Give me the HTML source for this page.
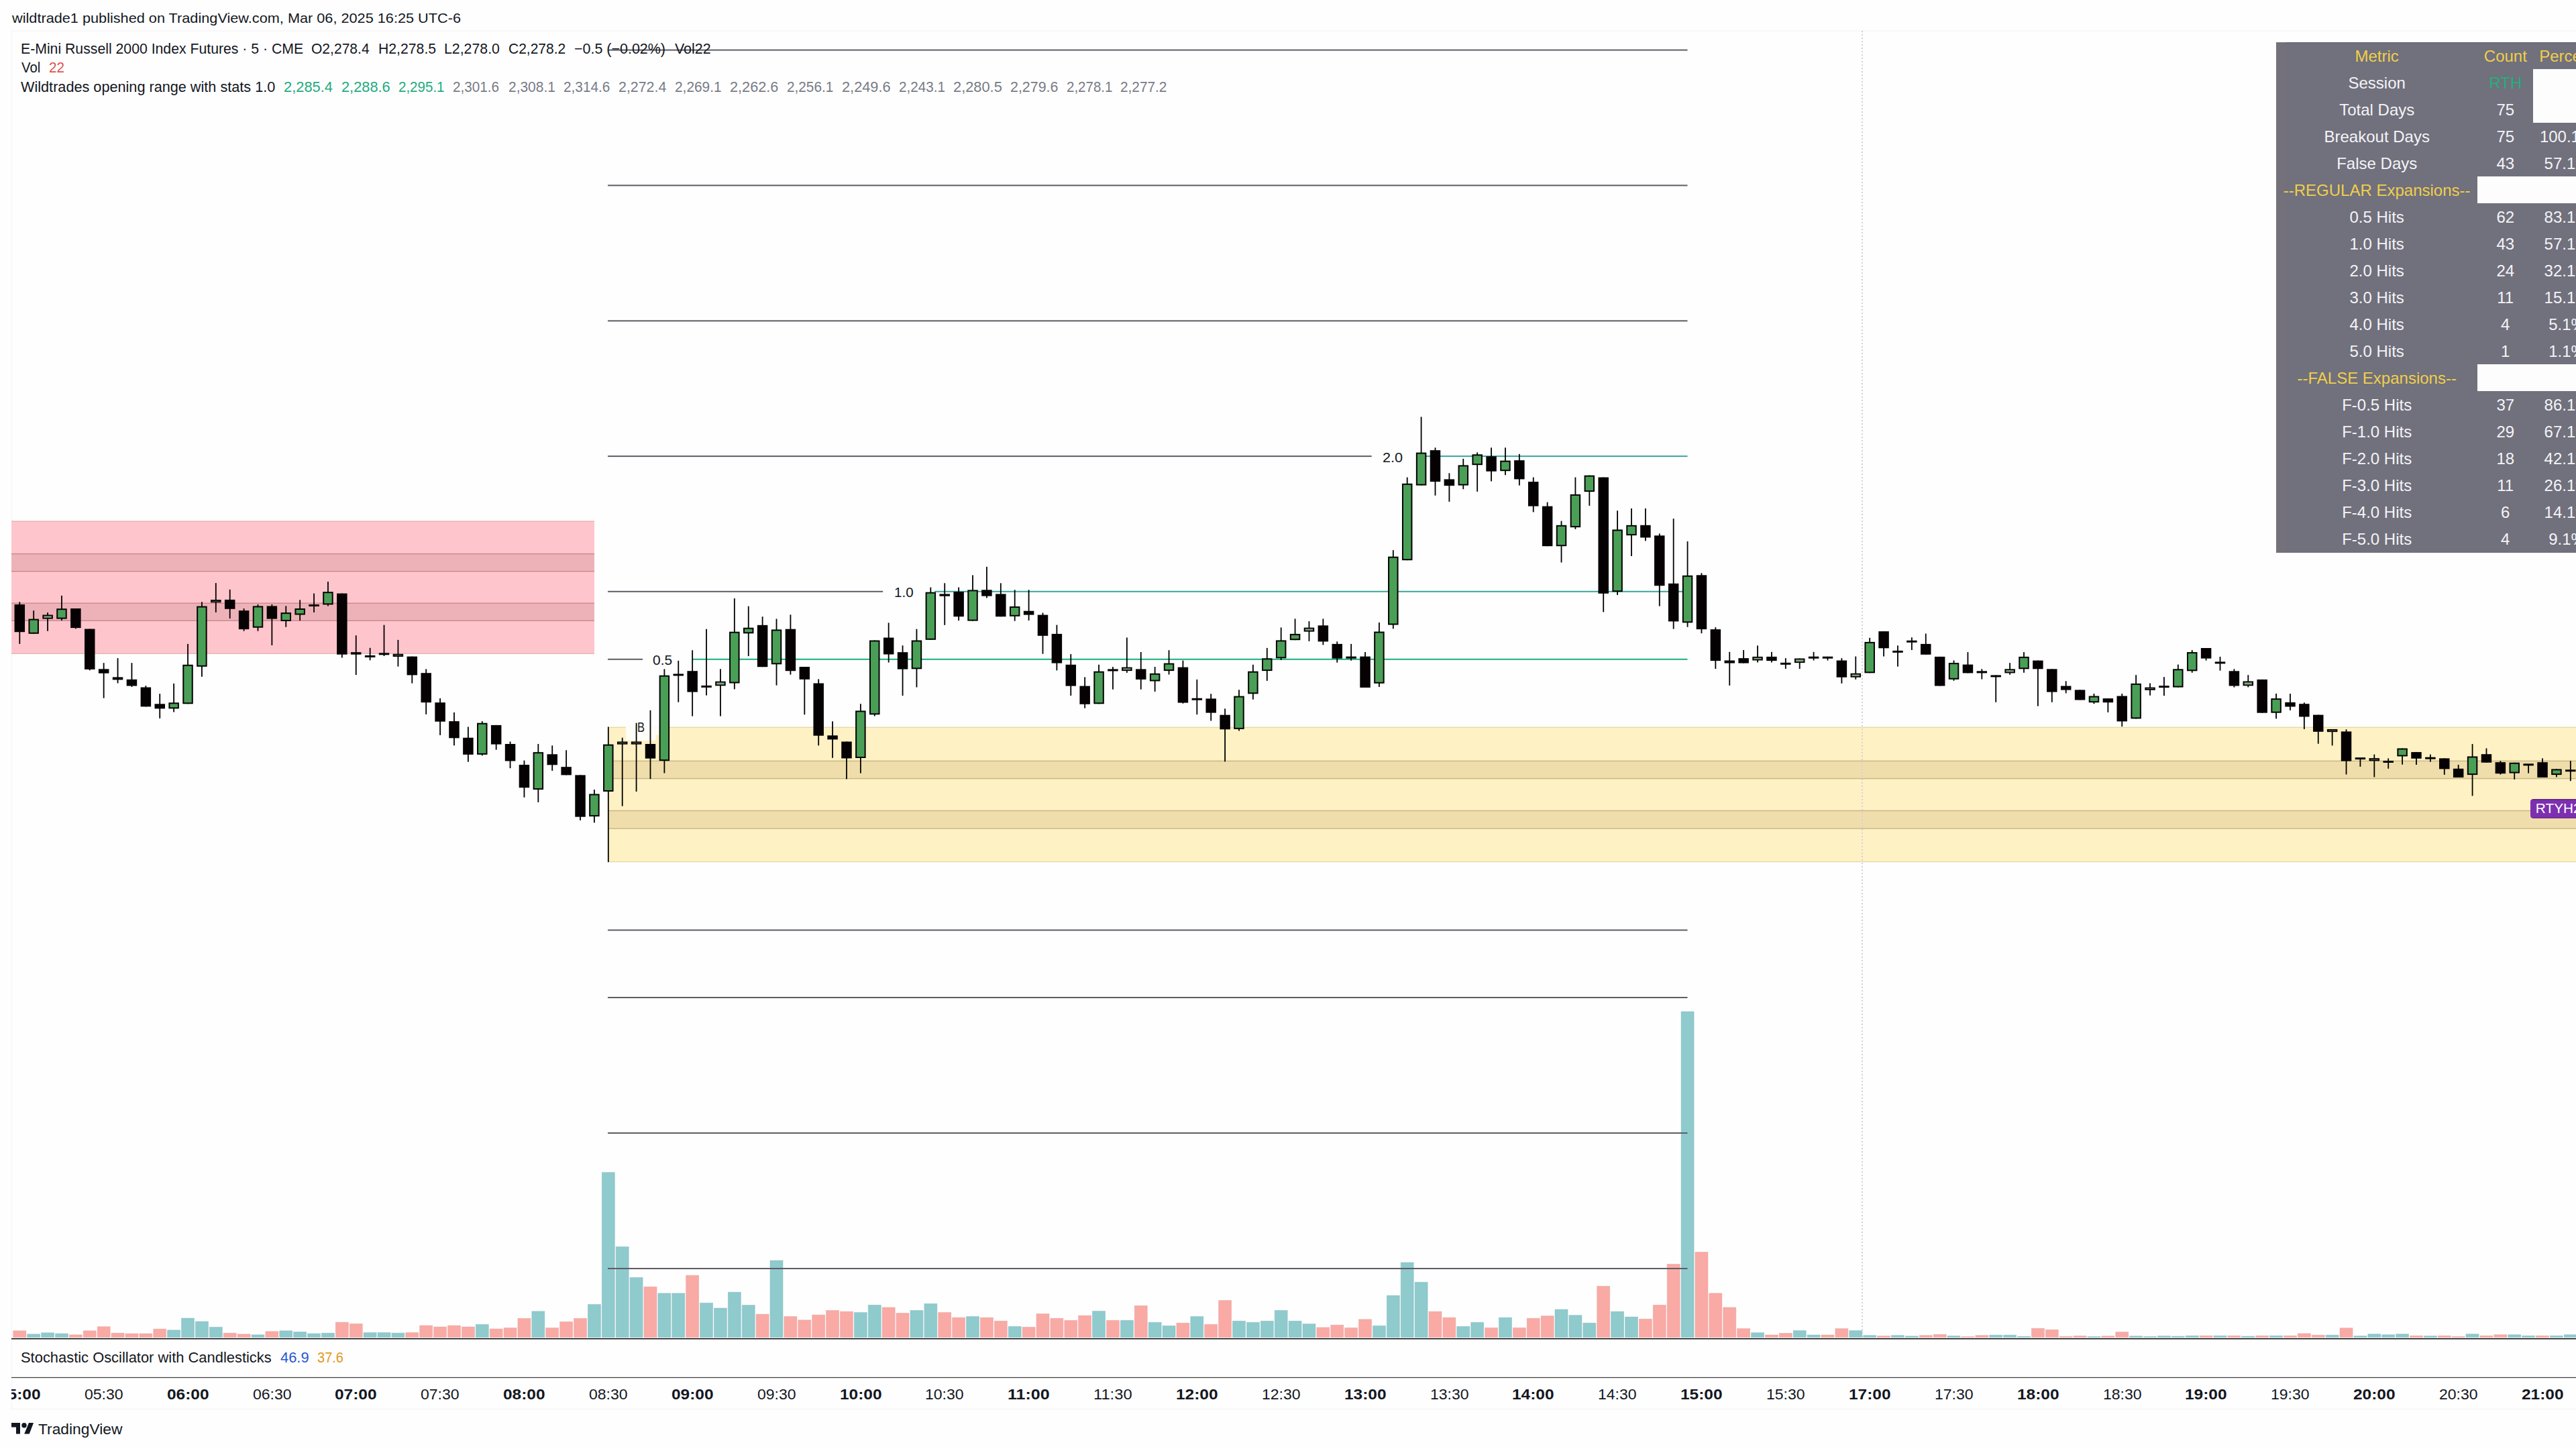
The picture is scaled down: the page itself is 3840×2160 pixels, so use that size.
<!DOCTYPE html>
<html><head><meta charset="utf-8"><style>
html,body{margin:0;padding:0;width:3840px;height:2160px;overflow:hidden;background:#fefefe}
.t{position:absolute;white-space:pre;line-height:1;font-family:"Liberation Sans", sans-serif;transform-origin:0 0}
svg{position:absolute;left:0;top:0}
</style></head><body>
<svg width="3840" height="2160" viewBox="0 0 3840 2160" shape-rendering="auto">
<rect x="17.00" y="45.50" width="3823.00" height="1.00" fill="#f1f0f4"/>
<rect x="17.00" y="45.00" width="1.00" height="2055.00" fill="#f3f2f5"/>
<rect x="17.00" y="2100.00" width="3823.00" height="1.00" fill="#f1f0f4"/>
<rect x="17.00" y="776.50" width="869.00" height="198.30" fill="#fec6cc"/>
<rect x="17.00" y="825.60" width="869.00" height="26.10" fill="#edb2b7"/>
<rect x="17.00" y="824.90" width="869.00" height="1.40" fill="#c98890"/>
<rect x="17.00" y="851.00" width="869.00" height="1.40" fill="#c98890"/>
<rect x="17.00" y="899.20" width="869.00" height="26.00" fill="#edb2b7"/>
<rect x="17.00" y="898.50" width="869.00" height="1.40" fill="#c98890"/>
<rect x="17.00" y="924.50" width="869.00" height="1.40" fill="#c98890"/>
<rect x="17.00" y="776.50" width="869.00" height="1.20" fill="#c98890" opacity="0.45"/>
<rect x="17.00" y="973.60" width="869.00" height="1.20" fill="#c98890" opacity="0.45"/>
<rect x="906.00" y="1083.70" width="2934.00" height="201.50" fill="#fef1c4"/>
<rect x="906.00" y="1134.40" width="2934.00" height="26.20" fill="#efdeab"/>
<rect x="906.00" y="1133.70" width="2934.00" height="1.40" fill="#c9b683"/>
<rect x="906.00" y="1159.90" width="2934.00" height="1.40" fill="#c9b683"/>
<rect x="906.00" y="1208.50" width="2934.00" height="26.60" fill="#efdeab"/>
<rect x="906.00" y="1207.80" width="2934.00" height="1.40" fill="#c9b683"/>
<rect x="906.00" y="1234.40" width="2934.00" height="1.40" fill="#c9b683"/>
<rect x="906.00" y="1083.70" width="2934.00" height="1.20" fill="#c9b683" opacity="0.45"/>
<rect x="906.00" y="1284.00" width="2934.00" height="1.20" fill="#c9b683" opacity="0.45"/>
<rect x="933.00" y="1083.20" width="44.50" height="20.80" fill="#fefdf8"/>
<rect x="977.50" y="1083.20" width="5.00" height="12.40" fill="#fefdf8"/>
<line x1="2776" y1="46" x2="2776" y2="1995" stroke="#d6d0d8" stroke-width="2" stroke-dasharray="2,3"/>
<rect x="19.80" y="1983.80" width="19.00" height="9.70" fill="#f9aaa5"/>
<rect x="19.80" y="1983.80" width="19.00" height="9.70" fill="none" stroke="#e9a09b" stroke-width="0.8" stroke-opacity="0.6"/>
<rect x="40.69" y="1988.80" width="19.00" height="4.70" fill="#8fcacd"/>
<rect x="40.69" y="1988.80" width="19.00" height="4.70" fill="none" stroke="#86bcc1" stroke-width="0.8" stroke-opacity="0.6"/>
<rect x="61.59" y="1986.80" width="19.00" height="6.70" fill="#8fcacd"/>
<rect x="61.59" y="1986.80" width="19.00" height="6.70" fill="none" stroke="#86bcc1" stroke-width="0.8" stroke-opacity="0.6"/>
<rect x="82.48" y="1988.00" width="19.00" height="5.50" fill="#8fcacd"/>
<rect x="82.48" y="1988.00" width="19.00" height="5.50" fill="none" stroke="#86bcc1" stroke-width="0.8" stroke-opacity="0.6"/>
<rect x="103.37" y="1989.80" width="19.00" height="3.70" fill="#f9aaa5"/>
<rect x="103.37" y="1989.80" width="19.00" height="3.70" fill="none" stroke="#e9a09b" stroke-width="0.8" stroke-opacity="0.6"/>
<rect x="124.27" y="1983.80" width="19.00" height="9.70" fill="#f9aaa5"/>
<rect x="124.27" y="1983.80" width="19.00" height="9.70" fill="none" stroke="#e9a09b" stroke-width="0.8" stroke-opacity="0.6"/>
<rect x="145.16" y="1977.70" width="19.00" height="15.80" fill="#f9aaa5"/>
<rect x="145.16" y="1977.70" width="19.00" height="15.80" fill="none" stroke="#e9a09b" stroke-width="0.8" stroke-opacity="0.6"/>
<rect x="166.05" y="1987.20" width="19.00" height="6.30" fill="#f9aaa5"/>
<rect x="166.05" y="1987.20" width="19.00" height="6.30" fill="none" stroke="#e9a09b" stroke-width="0.8" stroke-opacity="0.6"/>
<rect x="186.94" y="1988.00" width="19.00" height="5.50" fill="#f9aaa5"/>
<rect x="186.94" y="1988.00" width="19.00" height="5.50" fill="none" stroke="#e9a09b" stroke-width="0.8" stroke-opacity="0.6"/>
<rect x="207.84" y="1988.00" width="19.00" height="5.50" fill="#f9aaa5"/>
<rect x="207.84" y="1988.00" width="19.00" height="5.50" fill="none" stroke="#e9a09b" stroke-width="0.8" stroke-opacity="0.6"/>
<rect x="228.73" y="1981.10" width="19.00" height="12.40" fill="#f9aaa5"/>
<rect x="228.73" y="1981.10" width="19.00" height="12.40" fill="none" stroke="#e9a09b" stroke-width="0.8" stroke-opacity="0.6"/>
<rect x="249.62" y="1982.80" width="19.00" height="10.70" fill="#8fcacd"/>
<rect x="249.62" y="1982.80" width="19.00" height="10.70" fill="none" stroke="#86bcc1" stroke-width="0.8" stroke-opacity="0.6"/>
<rect x="270.52" y="1965.00" width="19.00" height="28.50" fill="#8fcacd"/>
<rect x="270.52" y="1965.00" width="19.00" height="28.50" fill="none" stroke="#86bcc1" stroke-width="0.8" stroke-opacity="0.6"/>
<rect x="291.41" y="1970.00" width="19.00" height="23.50" fill="#8fcacd"/>
<rect x="291.41" y="1970.00" width="19.00" height="23.50" fill="none" stroke="#86bcc1" stroke-width="0.8" stroke-opacity="0.6"/>
<rect x="312.30" y="1978.30" width="19.00" height="15.20" fill="#8fcacd"/>
<rect x="312.30" y="1978.30" width="19.00" height="15.20" fill="none" stroke="#86bcc1" stroke-width="0.8" stroke-opacity="0.6"/>
<rect x="333.19" y="1987.20" width="19.00" height="6.30" fill="#f9aaa5"/>
<rect x="333.19" y="1987.20" width="19.00" height="6.30" fill="none" stroke="#e9a09b" stroke-width="0.8" stroke-opacity="0.6"/>
<rect x="354.09" y="1988.80" width="19.00" height="4.70" fill="#f9aaa5"/>
<rect x="354.09" y="1988.80" width="19.00" height="4.70" fill="none" stroke="#e9a09b" stroke-width="0.8" stroke-opacity="0.6"/>
<rect x="374.98" y="1989.80" width="19.00" height="3.70" fill="#8fcacd"/>
<rect x="374.98" y="1989.80" width="19.00" height="3.70" fill="none" stroke="#86bcc1" stroke-width="0.8" stroke-opacity="0.6"/>
<rect x="395.87" y="1984.80" width="19.00" height="8.70" fill="#f9aaa5"/>
<rect x="395.87" y="1984.80" width="19.00" height="8.70" fill="none" stroke="#e9a09b" stroke-width="0.8" stroke-opacity="0.6"/>
<rect x="416.77" y="1983.80" width="19.00" height="9.70" fill="#8fcacd"/>
<rect x="416.77" y="1983.80" width="19.00" height="9.70" fill="none" stroke="#86bcc1" stroke-width="0.8" stroke-opacity="0.6"/>
<rect x="437.66" y="1985.40" width="19.00" height="8.10" fill="#8fcacd"/>
<rect x="437.66" y="1985.40" width="19.00" height="8.10" fill="none" stroke="#86bcc1" stroke-width="0.8" stroke-opacity="0.6"/>
<rect x="458.55" y="1988.00" width="19.00" height="5.50" fill="#8fcacd"/>
<rect x="458.55" y="1988.00" width="19.00" height="5.50" fill="none" stroke="#86bcc1" stroke-width="0.8" stroke-opacity="0.6"/>
<rect x="479.45" y="1987.20" width="19.00" height="6.30" fill="#8fcacd"/>
<rect x="479.45" y="1987.20" width="19.00" height="6.30" fill="none" stroke="#86bcc1" stroke-width="0.8" stroke-opacity="0.6"/>
<rect x="500.34" y="1971.10" width="19.00" height="22.40" fill="#f9aaa5"/>
<rect x="500.34" y="1971.10" width="19.00" height="22.40" fill="none" stroke="#e9a09b" stroke-width="0.8" stroke-opacity="0.6"/>
<rect x="521.23" y="1973.30" width="19.00" height="20.20" fill="#f9aaa5"/>
<rect x="521.23" y="1973.30" width="19.00" height="20.20" fill="none" stroke="#e9a09b" stroke-width="0.8" stroke-opacity="0.6"/>
<rect x="542.12" y="1986.50" width="19.00" height="7.00" fill="#8fcacd"/>
<rect x="542.12" y="1986.50" width="19.00" height="7.00" fill="none" stroke="#86bcc1" stroke-width="0.8" stroke-opacity="0.6"/>
<rect x="563.02" y="1986.50" width="19.00" height="7.00" fill="#8fcacd"/>
<rect x="563.02" y="1986.50" width="19.00" height="7.00" fill="none" stroke="#86bcc1" stroke-width="0.8" stroke-opacity="0.6"/>
<rect x="583.91" y="1987.10" width="19.00" height="6.40" fill="#8fcacd"/>
<rect x="583.91" y="1987.10" width="19.00" height="6.40" fill="none" stroke="#86bcc1" stroke-width="0.8" stroke-opacity="0.6"/>
<rect x="604.80" y="1986.50" width="19.00" height="7.00" fill="#f9aaa5"/>
<rect x="604.80" y="1986.50" width="19.00" height="7.00" fill="none" stroke="#e9a09b" stroke-width="0.8" stroke-opacity="0.6"/>
<rect x="625.70" y="1976.00" width="19.00" height="17.50" fill="#f9aaa5"/>
<rect x="625.70" y="1976.00" width="19.00" height="17.50" fill="none" stroke="#e9a09b" stroke-width="0.8" stroke-opacity="0.6"/>
<rect x="646.59" y="1978.00" width="19.00" height="15.50" fill="#f9aaa5"/>
<rect x="646.59" y="1978.00" width="19.00" height="15.50" fill="none" stroke="#e9a09b" stroke-width="0.8" stroke-opacity="0.6"/>
<rect x="667.48" y="1976.00" width="19.00" height="17.50" fill="#f9aaa5"/>
<rect x="667.48" y="1976.00" width="19.00" height="17.50" fill="none" stroke="#e9a09b" stroke-width="0.8" stroke-opacity="0.6"/>
<rect x="688.38" y="1978.00" width="19.00" height="15.50" fill="#f9aaa5"/>
<rect x="688.38" y="1978.00" width="19.00" height="15.50" fill="none" stroke="#e9a09b" stroke-width="0.8" stroke-opacity="0.6"/>
<rect x="709.27" y="1974.30" width="19.00" height="19.20" fill="#8fcacd"/>
<rect x="709.27" y="1974.30" width="19.00" height="19.20" fill="none" stroke="#86bcc1" stroke-width="0.8" stroke-opacity="0.6"/>
<rect x="730.16" y="1981.00" width="19.00" height="12.50" fill="#f9aaa5"/>
<rect x="730.16" y="1981.00" width="19.00" height="12.50" fill="none" stroke="#e9a09b" stroke-width="0.8" stroke-opacity="0.6"/>
<rect x="751.05" y="1979.40" width="19.00" height="14.10" fill="#f9aaa5"/>
<rect x="751.05" y="1979.40" width="19.00" height="14.10" fill="none" stroke="#e9a09b" stroke-width="0.8" stroke-opacity="0.6"/>
<rect x="771.95" y="1965.30" width="19.00" height="28.20" fill="#f9aaa5"/>
<rect x="771.95" y="1965.30" width="19.00" height="28.20" fill="none" stroke="#e9a09b" stroke-width="0.8" stroke-opacity="0.6"/>
<rect x="792.84" y="1954.80" width="19.00" height="38.70" fill="#8fcacd"/>
<rect x="792.84" y="1954.80" width="19.00" height="38.70" fill="none" stroke="#86bcc1" stroke-width="0.8" stroke-opacity="0.6"/>
<rect x="813.73" y="1979.40" width="19.00" height="14.10" fill="#f9aaa5"/>
<rect x="813.73" y="1979.40" width="19.00" height="14.10" fill="none" stroke="#e9a09b" stroke-width="0.8" stroke-opacity="0.6"/>
<rect x="834.63" y="1970.30" width="19.00" height="23.20" fill="#f9aaa5"/>
<rect x="834.63" y="1970.30" width="19.00" height="23.20" fill="none" stroke="#e9a09b" stroke-width="0.8" stroke-opacity="0.6"/>
<rect x="855.52" y="1965.30" width="19.00" height="28.20" fill="#f9aaa5"/>
<rect x="855.52" y="1965.30" width="19.00" height="28.20" fill="none" stroke="#e9a09b" stroke-width="0.8" stroke-opacity="0.6"/>
<rect x="876.41" y="1944.50" width="19.00" height="49.00" fill="#8fcacd"/>
<rect x="876.41" y="1944.50" width="19.00" height="49.00" fill="none" stroke="#86bcc1" stroke-width="0.8" stroke-opacity="0.6"/>
<rect x="897.31" y="1747.70" width="19.00" height="245.80" fill="#8fcacd"/>
<rect x="897.31" y="1747.70" width="19.00" height="245.80" fill="none" stroke="#86bcc1" stroke-width="0.8" stroke-opacity="0.6"/>
<rect x="918.20" y="1858.50" width="19.00" height="135.00" fill="#8fcacd"/>
<rect x="918.20" y="1858.50" width="19.00" height="135.00" fill="none" stroke="#86bcc1" stroke-width="0.8" stroke-opacity="0.6"/>
<rect x="939.09" y="1904.30" width="19.00" height="89.20" fill="#8fcacd"/>
<rect x="939.09" y="1904.30" width="19.00" height="89.20" fill="none" stroke="#86bcc1" stroke-width="0.8" stroke-opacity="0.6"/>
<rect x="959.99" y="1918.20" width="19.00" height="75.30" fill="#f9aaa5"/>
<rect x="959.99" y="1918.20" width="19.00" height="75.30" fill="none" stroke="#e9a09b" stroke-width="0.8" stroke-opacity="0.6"/>
<rect x="980.88" y="1927.90" width="19.00" height="65.60" fill="#8fcacd"/>
<rect x="980.88" y="1927.90" width="19.00" height="65.60" fill="none" stroke="#86bcc1" stroke-width="0.8" stroke-opacity="0.6"/>
<rect x="1001.77" y="1927.90" width="19.00" height="65.60" fill="#8fcacd"/>
<rect x="1001.77" y="1927.90" width="19.00" height="65.60" fill="none" stroke="#86bcc1" stroke-width="0.8" stroke-opacity="0.6"/>
<rect x="1022.66" y="1901.20" width="19.00" height="92.30" fill="#f9aaa5"/>
<rect x="1022.66" y="1901.20" width="19.00" height="92.30" fill="none" stroke="#e9a09b" stroke-width="0.8" stroke-opacity="0.6"/>
<rect x="1043.56" y="1942.30" width="19.00" height="51.20" fill="#8fcacd"/>
<rect x="1043.56" y="1942.30" width="19.00" height="51.20" fill="none" stroke="#86bcc1" stroke-width="0.8" stroke-opacity="0.6"/>
<rect x="1064.45" y="1950.00" width="19.00" height="43.50" fill="#8fcacd"/>
<rect x="1064.45" y="1950.00" width="19.00" height="43.50" fill="none" stroke="#86bcc1" stroke-width="0.8" stroke-opacity="0.6"/>
<rect x="1085.34" y="1926.20" width="19.00" height="67.30" fill="#8fcacd"/>
<rect x="1085.34" y="1926.20" width="19.00" height="67.30" fill="none" stroke="#86bcc1" stroke-width="0.8" stroke-opacity="0.6"/>
<rect x="1106.24" y="1945.60" width="19.00" height="47.90" fill="#8fcacd"/>
<rect x="1106.24" y="1945.60" width="19.00" height="47.90" fill="none" stroke="#86bcc1" stroke-width="0.8" stroke-opacity="0.6"/>
<rect x="1127.13" y="1959.10" width="19.00" height="34.40" fill="#f9aaa5"/>
<rect x="1127.13" y="1959.10" width="19.00" height="34.40" fill="none" stroke="#e9a09b" stroke-width="0.8" stroke-opacity="0.6"/>
<rect x="1148.02" y="1879.00" width="19.00" height="114.50" fill="#8fcacd"/>
<rect x="1148.02" y="1879.00" width="19.00" height="114.50" fill="none" stroke="#86bcc1" stroke-width="0.8" stroke-opacity="0.6"/>
<rect x="1168.91" y="1962.50" width="19.00" height="31.00" fill="#f9aaa5"/>
<rect x="1168.91" y="1962.50" width="19.00" height="31.00" fill="none" stroke="#e9a09b" stroke-width="0.8" stroke-opacity="0.6"/>
<rect x="1189.81" y="1967.80" width="19.00" height="25.70" fill="#f9aaa5"/>
<rect x="1189.81" y="1967.80" width="19.00" height="25.70" fill="none" stroke="#e9a09b" stroke-width="0.8" stroke-opacity="0.6"/>
<rect x="1210.70" y="1960.10" width="19.00" height="33.40" fill="#f9aaa5"/>
<rect x="1210.70" y="1960.10" width="19.00" height="33.40" fill="none" stroke="#e9a09b" stroke-width="0.8" stroke-opacity="0.6"/>
<rect x="1231.59" y="1953.40" width="19.00" height="40.10" fill="#f9aaa5"/>
<rect x="1231.59" y="1953.40" width="19.00" height="40.10" fill="none" stroke="#e9a09b" stroke-width="0.8" stroke-opacity="0.6"/>
<rect x="1252.49" y="1955.10" width="19.00" height="38.40" fill="#f9aaa5"/>
<rect x="1252.49" y="1955.10" width="19.00" height="38.40" fill="none" stroke="#e9a09b" stroke-width="0.8" stroke-opacity="0.6"/>
<rect x="1273.38" y="1956.50" width="19.00" height="37.00" fill="#8fcacd"/>
<rect x="1273.38" y="1956.50" width="19.00" height="37.00" fill="none" stroke="#86bcc1" stroke-width="0.8" stroke-opacity="0.6"/>
<rect x="1294.27" y="1945.40" width="19.00" height="48.10" fill="#8fcacd"/>
<rect x="1294.27" y="1945.40" width="19.00" height="48.10" fill="none" stroke="#86bcc1" stroke-width="0.8" stroke-opacity="0.6"/>
<rect x="1315.17" y="1949.00" width="19.00" height="44.50" fill="#f9aaa5"/>
<rect x="1315.17" y="1949.00" width="19.00" height="44.50" fill="none" stroke="#e9a09b" stroke-width="0.8" stroke-opacity="0.6"/>
<rect x="1336.06" y="1957.50" width="19.00" height="36.00" fill="#f9aaa5"/>
<rect x="1336.06" y="1957.50" width="19.00" height="36.00" fill="none" stroke="#e9a09b" stroke-width="0.8" stroke-opacity="0.6"/>
<rect x="1356.95" y="1953.40" width="19.00" height="40.10" fill="#8fcacd"/>
<rect x="1356.95" y="1953.40" width="19.00" height="40.10" fill="none" stroke="#86bcc1" stroke-width="0.8" stroke-opacity="0.6"/>
<rect x="1377.85" y="1943.40" width="19.00" height="50.10" fill="#8fcacd"/>
<rect x="1377.85" y="1943.40" width="19.00" height="50.10" fill="none" stroke="#86bcc1" stroke-width="0.8" stroke-opacity="0.6"/>
<rect x="1398.74" y="1956.50" width="19.00" height="37.00" fill="#f9aaa5"/>
<rect x="1398.74" y="1956.50" width="19.00" height="37.00" fill="none" stroke="#e9a09b" stroke-width="0.8" stroke-opacity="0.6"/>
<rect x="1419.63" y="1964.10" width="19.00" height="29.40" fill="#f9aaa5"/>
<rect x="1419.63" y="1964.10" width="19.00" height="29.40" fill="none" stroke="#e9a09b" stroke-width="0.8" stroke-opacity="0.6"/>
<rect x="1440.52" y="1962.50" width="19.00" height="31.00" fill="#8fcacd"/>
<rect x="1440.52" y="1962.50" width="19.00" height="31.00" fill="none" stroke="#86bcc1" stroke-width="0.8" stroke-opacity="0.6"/>
<rect x="1461.42" y="1964.10" width="19.00" height="29.40" fill="#f9aaa5"/>
<rect x="1461.42" y="1964.10" width="19.00" height="29.40" fill="none" stroke="#e9a09b" stroke-width="0.8" stroke-opacity="0.6"/>
<rect x="1482.31" y="1969.20" width="19.00" height="24.30" fill="#f9aaa5"/>
<rect x="1482.31" y="1969.20" width="19.00" height="24.30" fill="none" stroke="#e9a09b" stroke-width="0.8" stroke-opacity="0.6"/>
<rect x="1503.20" y="1977.30" width="19.00" height="16.20" fill="#8fcacd"/>
<rect x="1503.20" y="1977.30" width="19.00" height="16.20" fill="none" stroke="#86bcc1" stroke-width="0.8" stroke-opacity="0.6"/>
<rect x="1524.10" y="1978.30" width="19.00" height="15.20" fill="#f9aaa5"/>
<rect x="1524.10" y="1978.30" width="19.00" height="15.20" fill="none" stroke="#e9a09b" stroke-width="0.8" stroke-opacity="0.6"/>
<rect x="1544.99" y="1958.50" width="19.00" height="35.00" fill="#f9aaa5"/>
<rect x="1544.99" y="1958.50" width="19.00" height="35.00" fill="none" stroke="#e9a09b" stroke-width="0.8" stroke-opacity="0.6"/>
<rect x="1565.88" y="1965.20" width="19.00" height="28.30" fill="#f9aaa5"/>
<rect x="1565.88" y="1965.20" width="19.00" height="28.30" fill="none" stroke="#e9a09b" stroke-width="0.8" stroke-opacity="0.6"/>
<rect x="1586.78" y="1968.20" width="19.00" height="25.30" fill="#f9aaa5"/>
<rect x="1586.78" y="1968.20" width="19.00" height="25.30" fill="none" stroke="#e9a09b" stroke-width="0.8" stroke-opacity="0.6"/>
<rect x="1607.67" y="1961.10" width="19.00" height="32.40" fill="#f9aaa5"/>
<rect x="1607.67" y="1961.10" width="19.00" height="32.40" fill="none" stroke="#e9a09b" stroke-width="0.8" stroke-opacity="0.6"/>
<rect x="1628.56" y="1954.50" width="19.00" height="39.00" fill="#8fcacd"/>
<rect x="1628.56" y="1954.50" width="19.00" height="39.00" fill="none" stroke="#86bcc1" stroke-width="0.8" stroke-opacity="0.6"/>
<rect x="1649.45" y="1968.20" width="19.00" height="25.30" fill="#f9aaa5"/>
<rect x="1649.45" y="1968.20" width="19.00" height="25.30" fill="none" stroke="#e9a09b" stroke-width="0.8" stroke-opacity="0.6"/>
<rect x="1670.35" y="1968.20" width="19.00" height="25.30" fill="#8fcacd"/>
<rect x="1670.35" y="1968.20" width="19.00" height="25.30" fill="none" stroke="#86bcc1" stroke-width="0.8" stroke-opacity="0.6"/>
<rect x="1691.24" y="1946.40" width="19.00" height="47.10" fill="#f9aaa5"/>
<rect x="1691.24" y="1946.40" width="19.00" height="47.10" fill="none" stroke="#e9a09b" stroke-width="0.8" stroke-opacity="0.6"/>
<rect x="1712.13" y="1971.20" width="19.00" height="22.30" fill="#8fcacd"/>
<rect x="1712.13" y="1971.20" width="19.00" height="22.30" fill="none" stroke="#86bcc1" stroke-width="0.8" stroke-opacity="0.6"/>
<rect x="1733.03" y="1976.30" width="19.00" height="17.20" fill="#8fcacd"/>
<rect x="1733.03" y="1976.30" width="19.00" height="17.20" fill="none" stroke="#86bcc1" stroke-width="0.8" stroke-opacity="0.6"/>
<rect x="1753.92" y="1972.20" width="19.00" height="21.30" fill="#f9aaa5"/>
<rect x="1753.92" y="1972.20" width="19.00" height="21.30" fill="none" stroke="#e9a09b" stroke-width="0.8" stroke-opacity="0.6"/>
<rect x="1774.81" y="1962.50" width="19.00" height="31.00" fill="#8fcacd"/>
<rect x="1774.81" y="1962.50" width="19.00" height="31.00" fill="none" stroke="#86bcc1" stroke-width="0.8" stroke-opacity="0.6"/>
<rect x="1795.70" y="1974.20" width="19.00" height="19.30" fill="#f9aaa5"/>
<rect x="1795.70" y="1974.20" width="19.00" height="19.30" fill="none" stroke="#e9a09b" stroke-width="0.8" stroke-opacity="0.6"/>
<rect x="1816.60" y="1938.50" width="19.00" height="55.00" fill="#f9aaa5"/>
<rect x="1816.60" y="1938.50" width="19.00" height="55.00" fill="none" stroke="#e9a09b" stroke-width="0.8" stroke-opacity="0.6"/>
<rect x="1837.49" y="1969.20" width="19.00" height="24.30" fill="#8fcacd"/>
<rect x="1837.49" y="1969.20" width="19.00" height="24.30" fill="none" stroke="#86bcc1" stroke-width="0.8" stroke-opacity="0.6"/>
<rect x="1858.38" y="1971.20" width="19.00" height="22.30" fill="#8fcacd"/>
<rect x="1858.38" y="1971.20" width="19.00" height="22.30" fill="none" stroke="#86bcc1" stroke-width="0.8" stroke-opacity="0.6"/>
<rect x="1879.28" y="1969.20" width="19.00" height="24.30" fill="#8fcacd"/>
<rect x="1879.28" y="1969.20" width="19.00" height="24.30" fill="none" stroke="#86bcc1" stroke-width="0.8" stroke-opacity="0.6"/>
<rect x="1900.17" y="1953.40" width="19.00" height="40.10" fill="#8fcacd"/>
<rect x="1900.17" y="1953.40" width="19.00" height="40.10" fill="none" stroke="#86bcc1" stroke-width="0.8" stroke-opacity="0.6"/>
<rect x="1921.06" y="1969.20" width="19.00" height="24.30" fill="#8fcacd"/>
<rect x="1921.06" y="1969.20" width="19.00" height="24.30" fill="none" stroke="#86bcc1" stroke-width="0.8" stroke-opacity="0.6"/>
<rect x="1941.96" y="1973.60" width="19.00" height="19.90" fill="#8fcacd"/>
<rect x="1941.96" y="1973.60" width="19.00" height="19.90" fill="none" stroke="#86bcc1" stroke-width="0.8" stroke-opacity="0.6"/>
<rect x="1962.85" y="1978.90" width="19.00" height="14.60" fill="#f9aaa5"/>
<rect x="1962.85" y="1978.90" width="19.00" height="14.60" fill="none" stroke="#e9a09b" stroke-width="0.8" stroke-opacity="0.6"/>
<rect x="1983.74" y="1975.20" width="19.00" height="18.30" fill="#f9aaa5"/>
<rect x="1983.74" y="1975.20" width="19.00" height="18.30" fill="none" stroke="#e9a09b" stroke-width="0.8" stroke-opacity="0.6"/>
<rect x="2004.63" y="1979.30" width="19.00" height="14.20" fill="#f9aaa5"/>
<rect x="2004.63" y="1979.30" width="19.00" height="14.20" fill="none" stroke="#e9a09b" stroke-width="0.8" stroke-opacity="0.6"/>
<rect x="2025.53" y="1966.80" width="19.00" height="26.70" fill="#f9aaa5"/>
<rect x="2025.53" y="1966.80" width="19.00" height="26.70" fill="none" stroke="#e9a09b" stroke-width="0.8" stroke-opacity="0.6"/>
<rect x="2046.42" y="1976.30" width="19.00" height="17.20" fill="#8fcacd"/>
<rect x="2046.42" y="1976.30" width="19.00" height="17.20" fill="none" stroke="#86bcc1" stroke-width="0.8" stroke-opacity="0.6"/>
<rect x="2067.31" y="1931.20" width="19.00" height="62.30" fill="#8fcacd"/>
<rect x="2067.31" y="1931.20" width="19.00" height="62.30" fill="none" stroke="#86bcc1" stroke-width="0.8" stroke-opacity="0.6"/>
<rect x="2088.21" y="1882.00" width="19.00" height="111.50" fill="#8fcacd"/>
<rect x="2088.21" y="1882.00" width="19.00" height="111.50" fill="none" stroke="#86bcc1" stroke-width="0.8" stroke-opacity="0.6"/>
<rect x="2109.10" y="1911.30" width="19.00" height="82.20" fill="#8fcacd"/>
<rect x="2109.10" y="1911.30" width="19.00" height="82.20" fill="none" stroke="#86bcc1" stroke-width="0.8" stroke-opacity="0.6"/>
<rect x="2129.99" y="1955.10" width="19.00" height="38.40" fill="#f9aaa5"/>
<rect x="2129.99" y="1955.10" width="19.00" height="38.40" fill="none" stroke="#e9a09b" stroke-width="0.8" stroke-opacity="0.6"/>
<rect x="2150.89" y="1964.10" width="19.00" height="29.40" fill="#f9aaa5"/>
<rect x="2150.89" y="1964.10" width="19.00" height="29.40" fill="none" stroke="#e9a09b" stroke-width="0.8" stroke-opacity="0.6"/>
<rect x="2171.78" y="1977.30" width="19.00" height="16.20" fill="#8fcacd"/>
<rect x="2171.78" y="1977.30" width="19.00" height="16.20" fill="none" stroke="#86bcc1" stroke-width="0.8" stroke-opacity="0.6"/>
<rect x="2192.67" y="1971.20" width="19.00" height="22.30" fill="#8fcacd"/>
<rect x="2192.67" y="1971.20" width="19.00" height="22.30" fill="none" stroke="#86bcc1" stroke-width="0.8" stroke-opacity="0.6"/>
<rect x="2213.57" y="1979.30" width="19.00" height="14.20" fill="#f9aaa5"/>
<rect x="2213.57" y="1979.30" width="19.00" height="14.20" fill="none" stroke="#e9a09b" stroke-width="0.8" stroke-opacity="0.6"/>
<rect x="2234.46" y="1964.10" width="19.00" height="29.40" fill="#8fcacd"/>
<rect x="2234.46" y="1964.10" width="19.00" height="29.40" fill="none" stroke="#86bcc1" stroke-width="0.8" stroke-opacity="0.6"/>
<rect x="2255.35" y="1979.30" width="19.00" height="14.20" fill="#f9aaa5"/>
<rect x="2255.35" y="1979.30" width="19.00" height="14.20" fill="none" stroke="#e9a09b" stroke-width="0.8" stroke-opacity="0.6"/>
<rect x="2276.24" y="1965.20" width="19.00" height="28.30" fill="#f9aaa5"/>
<rect x="2276.24" y="1965.20" width="19.00" height="28.30" fill="none" stroke="#e9a09b" stroke-width="0.8" stroke-opacity="0.6"/>
<rect x="2297.14" y="1961.70" width="19.00" height="31.80" fill="#f9aaa5"/>
<rect x="2297.14" y="1961.70" width="19.00" height="31.80" fill="none" stroke="#e9a09b" stroke-width="0.8" stroke-opacity="0.6"/>
<rect x="2318.03" y="1952.00" width="19.00" height="41.50" fill="#8fcacd"/>
<rect x="2318.03" y="1952.00" width="19.00" height="41.50" fill="none" stroke="#86bcc1" stroke-width="0.8" stroke-opacity="0.6"/>
<rect x="2338.92" y="1960.70" width="19.00" height="32.80" fill="#8fcacd"/>
<rect x="2338.92" y="1960.70" width="19.00" height="32.80" fill="none" stroke="#86bcc1" stroke-width="0.8" stroke-opacity="0.6"/>
<rect x="2359.82" y="1972.20" width="19.00" height="21.30" fill="#8fcacd"/>
<rect x="2359.82" y="1972.20" width="19.00" height="21.30" fill="none" stroke="#86bcc1" stroke-width="0.8" stroke-opacity="0.6"/>
<rect x="2380.71" y="1917.30" width="19.00" height="76.20" fill="#f9aaa5"/>
<rect x="2380.71" y="1917.30" width="19.00" height="76.20" fill="none" stroke="#e9a09b" stroke-width="0.8" stroke-opacity="0.6"/>
<rect x="2401.60" y="1955.10" width="19.00" height="38.40" fill="#8fcacd"/>
<rect x="2401.60" y="1955.10" width="19.00" height="38.40" fill="none" stroke="#86bcc1" stroke-width="0.8" stroke-opacity="0.6"/>
<rect x="2422.50" y="1963.10" width="19.00" height="30.40" fill="#8fcacd"/>
<rect x="2422.50" y="1963.10" width="19.00" height="30.40" fill="none" stroke="#86bcc1" stroke-width="0.8" stroke-opacity="0.6"/>
<rect x="2443.39" y="1966.20" width="19.00" height="27.30" fill="#f9aaa5"/>
<rect x="2443.39" y="1966.20" width="19.00" height="27.30" fill="none" stroke="#e9a09b" stroke-width="0.8" stroke-opacity="0.6"/>
<rect x="2464.28" y="1945.40" width="19.00" height="48.10" fill="#f9aaa5"/>
<rect x="2464.28" y="1945.40" width="19.00" height="48.10" fill="none" stroke="#e9a09b" stroke-width="0.8" stroke-opacity="0.6"/>
<rect x="2485.17" y="1884.50" width="19.00" height="109.00" fill="#f9aaa5"/>
<rect x="2485.17" y="1884.50" width="19.00" height="109.00" fill="none" stroke="#e9a09b" stroke-width="0.8" stroke-opacity="0.6"/>
<rect x="2506.07" y="1508.00" width="19.00" height="485.50" fill="#8fcacd"/>
<rect x="2506.07" y="1508.00" width="19.00" height="485.50" fill="none" stroke="#86bcc1" stroke-width="0.8" stroke-opacity="0.6"/>
<rect x="2526.96" y="1866.50" width="19.00" height="127.00" fill="#f9aaa5"/>
<rect x="2526.96" y="1866.50" width="19.00" height="127.00" fill="none" stroke="#e9a09b" stroke-width="0.8" stroke-opacity="0.6"/>
<rect x="2547.85" y="1927.90" width="19.00" height="65.60" fill="#f9aaa5"/>
<rect x="2547.85" y="1927.90" width="19.00" height="65.60" fill="none" stroke="#e9a09b" stroke-width="0.8" stroke-opacity="0.6"/>
<rect x="2568.75" y="1949.00" width="19.00" height="44.50" fill="#f9aaa5"/>
<rect x="2568.75" y="1949.00" width="19.00" height="44.50" fill="none" stroke="#e9a09b" stroke-width="0.8" stroke-opacity="0.6"/>
<rect x="2589.64" y="1980.60" width="19.00" height="12.90" fill="#f9aaa5"/>
<rect x="2589.64" y="1980.60" width="19.00" height="12.90" fill="none" stroke="#e9a09b" stroke-width="0.8" stroke-opacity="0.6"/>
<rect x="2610.53" y="1986.70" width="19.00" height="6.80" fill="#8fcacd"/>
<rect x="2610.53" y="1986.70" width="19.00" height="6.80" fill="none" stroke="#86bcc1" stroke-width="0.8" stroke-opacity="0.6"/>
<rect x="2631.43" y="1990.00" width="19.00" height="3.50" fill="#f9aaa5"/>
<rect x="2631.43" y="1990.00" width="19.00" height="3.50" fill="none" stroke="#e9a09b" stroke-width="0.8" stroke-opacity="0.6"/>
<rect x="2652.32" y="1987.40" width="19.00" height="6.10" fill="#f9aaa5"/>
<rect x="2652.32" y="1987.40" width="19.00" height="6.10" fill="none" stroke="#e9a09b" stroke-width="0.8" stroke-opacity="0.6"/>
<rect x="2673.21" y="1983.50" width="19.00" height="10.00" fill="#8fcacd"/>
<rect x="2673.21" y="1983.50" width="19.00" height="10.00" fill="none" stroke="#86bcc1" stroke-width="0.8" stroke-opacity="0.6"/>
<rect x="2694.10" y="1990.00" width="19.00" height="3.50" fill="#8fcacd"/>
<rect x="2694.10" y="1990.00" width="19.00" height="3.50" fill="none" stroke="#86bcc1" stroke-width="0.8" stroke-opacity="0.6"/>
<rect x="2715.00" y="1990.00" width="19.00" height="3.50" fill="#f9aaa5"/>
<rect x="2715.00" y="1990.00" width="19.00" height="3.50" fill="none" stroke="#e9a09b" stroke-width="0.8" stroke-opacity="0.6"/>
<rect x="2735.89" y="1980.60" width="19.00" height="12.90" fill="#f9aaa5"/>
<rect x="2735.89" y="1980.60" width="19.00" height="12.90" fill="none" stroke="#e9a09b" stroke-width="0.8" stroke-opacity="0.6"/>
<rect x="2756.78" y="1983.50" width="19.00" height="10.00" fill="#8fcacd"/>
<rect x="2756.78" y="1983.50" width="19.00" height="10.00" fill="none" stroke="#86bcc1" stroke-width="0.8" stroke-opacity="0.6"/>
<rect x="2777.68" y="1990.70" width="19.00" height="2.80" fill="#8fcacd"/>
<rect x="2777.68" y="1990.70" width="19.00" height="2.80" fill="none" stroke="#86bcc1" stroke-width="0.8" stroke-opacity="0.6"/>
<rect x="2798.57" y="1991.40" width="19.00" height="2.10" fill="#f9aaa5"/>
<rect x="2798.57" y="1991.40" width="19.00" height="2.10" fill="none" stroke="#e9a09b" stroke-width="0.8" stroke-opacity="0.6"/>
<rect x="2819.46" y="1990.70" width="19.00" height="2.80" fill="#8fcacd"/>
<rect x="2819.46" y="1990.70" width="19.00" height="2.80" fill="none" stroke="#86bcc1" stroke-width="0.8" stroke-opacity="0.6"/>
<rect x="2840.36" y="1991.80" width="19.00" height="1.70" fill="#8fcacd"/>
<rect x="2840.36" y="1991.80" width="19.00" height="1.70" fill="none" stroke="#86bcc1" stroke-width="0.8" stroke-opacity="0.6"/>
<rect x="2861.25" y="1990.70" width="19.00" height="2.80" fill="#f9aaa5"/>
<rect x="2861.25" y="1990.70" width="19.00" height="2.80" fill="none" stroke="#e9a09b" stroke-width="0.8" stroke-opacity="0.6"/>
<rect x="2882.14" y="1989.20" width="19.00" height="4.30" fill="#f9aaa5"/>
<rect x="2882.14" y="1989.20" width="19.00" height="4.30" fill="none" stroke="#e9a09b" stroke-width="0.8" stroke-opacity="0.6"/>
<rect x="2903.03" y="1991.40" width="19.00" height="2.10" fill="#8fcacd"/>
<rect x="2903.03" y="1991.40" width="19.00" height="2.10" fill="none" stroke="#86bcc1" stroke-width="0.8" stroke-opacity="0.6"/>
<rect x="2923.93" y="1992.50" width="19.00" height="1.00" fill="#f9aaa5"/>
<rect x="2923.93" y="1992.50" width="19.00" height="1.00" fill="none" stroke="#e9a09b" stroke-width="0.8" stroke-opacity="0.6"/>
<rect x="2944.82" y="1990.70" width="19.00" height="2.80" fill="#f9aaa5"/>
<rect x="2944.82" y="1990.70" width="19.00" height="2.80" fill="none" stroke="#e9a09b" stroke-width="0.8" stroke-opacity="0.6"/>
<rect x="2965.71" y="1990.20" width="19.00" height="3.30" fill="#8fcacd"/>
<rect x="2965.71" y="1990.20" width="19.00" height="3.30" fill="none" stroke="#86bcc1" stroke-width="0.8" stroke-opacity="0.6"/>
<rect x="2986.61" y="1990.20" width="19.00" height="3.30" fill="#8fcacd"/>
<rect x="2986.61" y="1990.20" width="19.00" height="3.30" fill="none" stroke="#86bcc1" stroke-width="0.8" stroke-opacity="0.6"/>
<rect x="3007.50" y="1992.20" width="19.00" height="1.30" fill="#8fcacd"/>
<rect x="3007.50" y="1992.20" width="19.00" height="1.30" fill="none" stroke="#86bcc1" stroke-width="0.8" stroke-opacity="0.6"/>
<rect x="3028.39" y="1980.20" width="19.00" height="13.30" fill="#f9aaa5"/>
<rect x="3028.39" y="1980.20" width="19.00" height="13.30" fill="none" stroke="#e9a09b" stroke-width="0.8" stroke-opacity="0.6"/>
<rect x="3049.29" y="1982.20" width="19.00" height="11.30" fill="#f9aaa5"/>
<rect x="3049.29" y="1982.20" width="19.00" height="11.30" fill="none" stroke="#e9a09b" stroke-width="0.8" stroke-opacity="0.6"/>
<rect x="3070.18" y="1992.20" width="19.00" height="1.30" fill="#f9aaa5"/>
<rect x="3070.18" y="1992.20" width="19.00" height="1.30" fill="none" stroke="#e9a09b" stroke-width="0.8" stroke-opacity="0.6"/>
<rect x="3091.07" y="1991.40" width="19.00" height="2.10" fill="#f9aaa5"/>
<rect x="3091.07" y="1991.40" width="19.00" height="2.10" fill="none" stroke="#e9a09b" stroke-width="0.8" stroke-opacity="0.6"/>
<rect x="3111.96" y="1992.40" width="19.00" height="1.10" fill="#8fcacd"/>
<rect x="3111.96" y="1992.40" width="19.00" height="1.10" fill="none" stroke="#86bcc1" stroke-width="0.8" stroke-opacity="0.6"/>
<rect x="3132.86" y="1991.70" width="19.00" height="1.80" fill="#f9aaa5"/>
<rect x="3132.86" y="1991.70" width="19.00" height="1.80" fill="none" stroke="#e9a09b" stroke-width="0.8" stroke-opacity="0.6"/>
<rect x="3153.75" y="1985.70" width="19.00" height="7.80" fill="#f9aaa5"/>
<rect x="3153.75" y="1985.70" width="19.00" height="7.80" fill="none" stroke="#e9a09b" stroke-width="0.8" stroke-opacity="0.6"/>
<rect x="3174.64" y="1991.70" width="19.00" height="1.80" fill="#8fcacd"/>
<rect x="3174.64" y="1991.70" width="19.00" height="1.80" fill="none" stroke="#86bcc1" stroke-width="0.8" stroke-opacity="0.6"/>
<rect x="3195.54" y="1992.30" width="19.00" height="1.20" fill="#8fcacd"/>
<rect x="3195.54" y="1992.30" width="19.00" height="1.20" fill="none" stroke="#86bcc1" stroke-width="0.8" stroke-opacity="0.6"/>
<rect x="3216.43" y="1991.50" width="19.00" height="2.00" fill="#8fcacd"/>
<rect x="3216.43" y="1991.50" width="19.00" height="2.00" fill="none" stroke="#86bcc1" stroke-width="0.8" stroke-opacity="0.6"/>
<rect x="3237.32" y="1992.00" width="19.00" height="1.50" fill="#8fcacd"/>
<rect x="3237.32" y="1992.00" width="19.00" height="1.50" fill="none" stroke="#86bcc1" stroke-width="0.8" stroke-opacity="0.6"/>
<rect x="3258.22" y="1991.20" width="19.00" height="2.30" fill="#8fcacd"/>
<rect x="3258.22" y="1991.20" width="19.00" height="2.30" fill="none" stroke="#86bcc1" stroke-width="0.8" stroke-opacity="0.6"/>
<rect x="3279.11" y="1991.20" width="19.00" height="2.30" fill="#f9aaa5"/>
<rect x="3279.11" y="1991.20" width="19.00" height="2.30" fill="none" stroke="#e9a09b" stroke-width="0.8" stroke-opacity="0.6"/>
<rect x="3300.00" y="1991.20" width="19.00" height="2.30" fill="#8fcacd"/>
<rect x="3300.00" y="1991.20" width="19.00" height="2.30" fill="none" stroke="#86bcc1" stroke-width="0.8" stroke-opacity="0.6"/>
<rect x="3320.89" y="1991.20" width="19.00" height="2.30" fill="#f9aaa5"/>
<rect x="3320.89" y="1991.20" width="19.00" height="2.30" fill="none" stroke="#e9a09b" stroke-width="0.8" stroke-opacity="0.6"/>
<rect x="3341.79" y="1992.00" width="19.00" height="1.50" fill="#8fcacd"/>
<rect x="3341.79" y="1992.00" width="19.00" height="1.50" fill="none" stroke="#86bcc1" stroke-width="0.8" stroke-opacity="0.6"/>
<rect x="3362.68" y="1991.20" width="19.00" height="2.30" fill="#f9aaa5"/>
<rect x="3362.68" y="1991.20" width="19.00" height="2.30" fill="none" stroke="#e9a09b" stroke-width="0.8" stroke-opacity="0.6"/>
<rect x="3383.57" y="1991.20" width="19.00" height="2.30" fill="#8fcacd"/>
<rect x="3383.57" y="1991.20" width="19.00" height="2.30" fill="none" stroke="#86bcc1" stroke-width="0.8" stroke-opacity="0.6"/>
<rect x="3404.47" y="1991.20" width="19.00" height="2.30" fill="#f9aaa5"/>
<rect x="3404.47" y="1991.20" width="19.00" height="2.30" fill="none" stroke="#e9a09b" stroke-width="0.8" stroke-opacity="0.6"/>
<rect x="3425.36" y="1987.90" width="19.00" height="5.60" fill="#f9aaa5"/>
<rect x="3425.36" y="1987.90" width="19.00" height="5.60" fill="none" stroke="#e9a09b" stroke-width="0.8" stroke-opacity="0.6"/>
<rect x="3446.25" y="1990.20" width="19.00" height="3.30" fill="#f9aaa5"/>
<rect x="3446.25" y="1990.20" width="19.00" height="3.30" fill="none" stroke="#e9a09b" stroke-width="0.8" stroke-opacity="0.6"/>
<rect x="3467.15" y="1990.20" width="19.00" height="3.30" fill="#8fcacd"/>
<rect x="3467.15" y="1990.20" width="19.00" height="3.30" fill="none" stroke="#86bcc1" stroke-width="0.8" stroke-opacity="0.6"/>
<rect x="3488.04" y="1979.70" width="19.00" height="13.80" fill="#f9aaa5"/>
<rect x="3488.04" y="1979.70" width="19.00" height="13.80" fill="none" stroke="#e9a09b" stroke-width="0.8" stroke-opacity="0.6"/>
<rect x="3508.93" y="1991.50" width="19.00" height="2.00" fill="#8fcacd"/>
<rect x="3508.93" y="1991.50" width="19.00" height="2.00" fill="none" stroke="#86bcc1" stroke-width="0.8" stroke-opacity="0.6"/>
<rect x="3529.82" y="1988.70" width="19.00" height="4.80" fill="#8fcacd"/>
<rect x="3529.82" y="1988.70" width="19.00" height="4.80" fill="none" stroke="#86bcc1" stroke-width="0.8" stroke-opacity="0.6"/>
<rect x="3550.72" y="1989.70" width="19.00" height="3.80" fill="#8fcacd"/>
<rect x="3550.72" y="1989.70" width="19.00" height="3.80" fill="none" stroke="#86bcc1" stroke-width="0.8" stroke-opacity="0.6"/>
<rect x="3571.61" y="1988.70" width="19.00" height="4.80" fill="#8fcacd"/>
<rect x="3571.61" y="1988.70" width="19.00" height="4.80" fill="none" stroke="#86bcc1" stroke-width="0.8" stroke-opacity="0.6"/>
<rect x="3592.50" y="1991.20" width="19.00" height="2.30" fill="#f9aaa5"/>
<rect x="3592.50" y="1991.20" width="19.00" height="2.30" fill="none" stroke="#e9a09b" stroke-width="0.8" stroke-opacity="0.6"/>
<rect x="3613.40" y="1991.50" width="19.00" height="2.00" fill="#8fcacd"/>
<rect x="3613.40" y="1991.50" width="19.00" height="2.00" fill="none" stroke="#86bcc1" stroke-width="0.8" stroke-opacity="0.6"/>
<rect x="3634.29" y="1991.20" width="19.00" height="2.30" fill="#f9aaa5"/>
<rect x="3634.29" y="1991.20" width="19.00" height="2.30" fill="none" stroke="#e9a09b" stroke-width="0.8" stroke-opacity="0.6"/>
<rect x="3655.18" y="1992.30" width="19.00" height="1.20" fill="#f9aaa5"/>
<rect x="3655.18" y="1992.30" width="19.00" height="1.20" fill="none" stroke="#e9a09b" stroke-width="0.8" stroke-opacity="0.6"/>
<rect x="3676.08" y="1988.70" width="19.00" height="4.80" fill="#8fcacd"/>
<rect x="3676.08" y="1988.70" width="19.00" height="4.80" fill="none" stroke="#86bcc1" stroke-width="0.8" stroke-opacity="0.6"/>
<rect x="3696.97" y="1991.20" width="19.00" height="2.30" fill="#f9aaa5"/>
<rect x="3696.97" y="1991.20" width="19.00" height="2.30" fill="none" stroke="#e9a09b" stroke-width="0.8" stroke-opacity="0.6"/>
<rect x="3717.86" y="1989.70" width="19.00" height="3.80" fill="#f9aaa5"/>
<rect x="3717.86" y="1989.70" width="19.00" height="3.80" fill="none" stroke="#e9a09b" stroke-width="0.8" stroke-opacity="0.6"/>
<rect x="3738.75" y="1989.70" width="19.00" height="3.80" fill="#8fcacd"/>
<rect x="3738.75" y="1989.70" width="19.00" height="3.80" fill="none" stroke="#86bcc1" stroke-width="0.8" stroke-opacity="0.6"/>
<rect x="3759.65" y="1991.20" width="19.00" height="2.30" fill="#8fcacd"/>
<rect x="3759.65" y="1991.20" width="19.00" height="2.30" fill="none" stroke="#86bcc1" stroke-width="0.8" stroke-opacity="0.6"/>
<rect x="3780.54" y="1991.20" width="19.00" height="2.30" fill="#f9aaa5"/>
<rect x="3780.54" y="1991.20" width="19.00" height="2.30" fill="none" stroke="#e9a09b" stroke-width="0.8" stroke-opacity="0.6"/>
<rect x="3801.43" y="1991.20" width="19.00" height="2.30" fill="#8fcacd"/>
<rect x="3801.43" y="1991.20" width="19.00" height="2.30" fill="none" stroke="#86bcc1" stroke-width="0.8" stroke-opacity="0.6"/>
<rect x="3822.33" y="1989.70" width="19.00" height="3.80" fill="#8fcacd"/>
<rect x="3822.33" y="1989.70" width="19.00" height="3.80" fill="none" stroke="#86bcc1" stroke-width="0.8" stroke-opacity="0.6"/>
<rect x="906.00" y="73.60" width="1609.50" height="2.00" fill="#5e5d64"/>
<rect x="906.00" y="275.40" width="1609.50" height="2.00" fill="#5e5d64"/>
<rect x="906.00" y="477.30" width="1609.50" height="2.00" fill="#5e5d64"/>
<rect x="906.00" y="1385.50" width="1609.50" height="2.00" fill="#5e5d64"/>
<rect x="906.00" y="1486.00" width="1609.50" height="2.00" fill="#5e5d64"/>
<rect x="906.00" y="1688.00" width="1609.50" height="2.00" fill="#5e5d64"/>
<rect x="906.00" y="1890.00" width="1609.50" height="2.00" fill="#5e5d64"/>
<rect x="906.00" y="679.10" width="1138.70" height="2.00" fill="#5e5d64"/>
<rect x="906.00" y="880.80" width="410.20" height="2.00" fill="#5e5d64"/>
<rect x="906.00" y="981.80" width="52.00" height="2.00" fill="#5e5d64"/>
<rect x="2126.00" y="679.10" width="389.50" height="2.00" fill="#3ba79b"/>
<rect x="1393.00" y="880.80" width="1122.50" height="2.00" fill="#3ba79b"/>
<rect x="1032.00" y="981.80" width="1483.50" height="2.00" fill="#19b07d"/>
<rect x="28.40" y="897.30" width="1.80" height="62.60" fill="#000"/>
<rect x="21.55" y="901.00" width="15.50" height="41.20" fill="#060203"/>
<rect x="49.29" y="910.10" width="1.80" height="34.70" fill="#000"/>
<rect x="42.44" y="922.60" width="15.50" height="22.20" fill="#060203"/>
<rect x="44.44" y="924.60" width="11.50" height="18.20" fill="#4a9f57"/>
<rect x="70.19" y="913.10" width="1.80" height="27.60" fill="#000"/>
<rect x="63.34" y="916.50" width="15.50" height="6.10" fill="#060203"/>
<rect x="65.34" y="918.30" width="11.50" height="2.50" fill="#7fa37e"/>
<rect x="91.08" y="887.90" width="1.80" height="37.10" fill="#000"/>
<rect x="84.23" y="907.20" width="15.50" height="15.40" fill="#060203"/>
<rect x="86.23" y="909.20" width="11.50" height="11.40" fill="#4a9f57"/>
<rect x="111.97" y="907.00" width="1.80" height="30.30" fill="#000"/>
<rect x="105.12" y="907.00" width="15.50" height="29.10" fill="#060203"/>
<rect x="132.87" y="937.50" width="1.80" height="61.80" fill="#000"/>
<rect x="126.02" y="937.50" width="15.50" height="60.40" fill="#060203"/>
<rect x="153.76" y="988.20" width="1.80" height="52.50" fill="#000"/>
<rect x="146.91" y="997.30" width="15.50" height="6.40" fill="#060203"/>
<rect x="174.65" y="981.10" width="1.80" height="37.40" fill="#000"/>
<rect x="167.80" y="1009.40" width="15.50" height="4.00" fill="#060203"/>
<rect x="195.54" y="988.20" width="1.80" height="35.70" fill="#000"/>
<rect x="188.69" y="1012.80" width="15.50" height="9.70" fill="#060203"/>
<rect x="216.44" y="1022.10" width="1.80" height="31.30" fill="#000"/>
<rect x="209.59" y="1024.50" width="15.50" height="28.90" fill="#060203"/>
<rect x="237.33" y="1034.20" width="1.80" height="36.70" fill="#000"/>
<rect x="230.48" y="1049.30" width="15.50" height="7.10" fill="#060203"/>
<rect x="258.22" y="1018.90" width="1.80" height="42.60" fill="#000"/>
<rect x="251.37" y="1047.30" width="15.50" height="9.10" fill="#060203"/>
<rect x="253.37" y="1049.30" width="11.50" height="5.10" fill="#4a9f57"/>
<rect x="279.12" y="959.90" width="1.80" height="89.40" fill="#000"/>
<rect x="272.27" y="990.80" width="15.50" height="58.50" fill="#060203"/>
<rect x="274.27" y="992.80" width="11.50" height="54.50" fill="#4a9f57"/>
<rect x="300.01" y="897.30" width="1.80" height="111.50" fill="#000"/>
<rect x="293.16" y="903.60" width="15.50" height="90.20" fill="#060203"/>
<rect x="295.16" y="905.60" width="11.50" height="86.20" fill="#4a9f57"/>
<rect x="320.90" y="869.10" width="1.80" height="43.80" fill="#000"/>
<rect x="314.05" y="894.00" width="15.50" height="4.20" fill="#060203"/>
<rect x="316.05" y="895.80" width="11.50" height="0.60" fill="#7fa37e"/>
<rect x="341.80" y="878.80" width="1.80" height="43.20" fill="#000"/>
<rect x="334.94" y="893.90" width="15.50" height="13.90" fill="#060203"/>
<rect x="362.69" y="907.00" width="1.80" height="33.70" fill="#000"/>
<rect x="355.84" y="910.10" width="15.50" height="28.00" fill="#060203"/>
<rect x="383.58" y="901.00" width="1.80" height="39.70" fill="#000"/>
<rect x="376.73" y="903.40" width="15.50" height="32.30" fill="#060203"/>
<rect x="378.73" y="905.40" width="11.50" height="28.30" fill="#4a9f57"/>
<rect x="404.47" y="901.00" width="1.80" height="60.90" fill="#000"/>
<rect x="397.62" y="903.40" width="15.50" height="19.20" fill="#060203"/>
<rect x="425.37" y="903.40" width="1.80" height="31.30" fill="#000"/>
<rect x="418.52" y="913.10" width="15.50" height="12.90" fill="#060203"/>
<rect x="420.52" y="915.10" width="11.50" height="8.90" fill="#4a9f57"/>
<rect x="446.26" y="894.30" width="1.80" height="30.90" fill="#000"/>
<rect x="439.41" y="907.00" width="15.50" height="9.50" fill="#060203"/>
<rect x="441.41" y="909.00" width="11.50" height="5.50" fill="#4a9f57"/>
<rect x="467.15" y="884.60" width="1.80" height="28.30" fill="#000"/>
<rect x="460.30" y="901.00" width="15.50" height="3.00" fill="#060203"/>
<rect x="488.05" y="867.10" width="1.80" height="36.30" fill="#000"/>
<rect x="481.20" y="882.20" width="15.50" height="19.20" fill="#060203"/>
<rect x="483.20" y="884.20" width="11.50" height="15.20" fill="#4a9f57"/>
<rect x="508.94" y="884.60" width="1.80" height="95.90" fill="#000"/>
<rect x="502.09" y="884.60" width="15.50" height="91.10" fill="#060203"/>
<rect x="529.83" y="947.20" width="1.80" height="58.90" fill="#000"/>
<rect x="522.98" y="972.20" width="15.50" height="3.50" fill="#060203"/>
<rect x="550.73" y="965.80" width="1.80" height="18.50" fill="#000"/>
<rect x="543.88" y="976.90" width="15.50" height="3.00" fill="#060203"/>
<rect x="571.62" y="931.60" width="1.80" height="46.40" fill="#000"/>
<rect x="564.77" y="973.30" width="15.50" height="3.00" fill="#060203"/>
<rect x="592.51" y="953.90" width="1.80" height="39.70" fill="#000"/>
<rect x="585.66" y="974.75" width="15.50" height="4.20" fill="#060203"/>
<rect x="587.66" y="976.55" width="11.50" height="0.60" fill="#7fa37e"/>
<rect x="613.40" y="978.60" width="1.80" height="40.00" fill="#000"/>
<rect x="606.55" y="978.60" width="15.50" height="27.80" fill="#060203"/>
<rect x="634.30" y="997.40" width="1.80" height="67.50" fill="#000"/>
<rect x="627.45" y="1003.20" width="15.50" height="44.00" fill="#060203"/>
<rect x="655.19" y="1040.90" width="1.80" height="55.00" fill="#000"/>
<rect x="648.34" y="1047.20" width="15.50" height="28.50" fill="#060203"/>
<rect x="676.08" y="1062.00" width="1.80" height="49.30" fill="#000"/>
<rect x="669.23" y="1075.10" width="15.50" height="25.20" fill="#060203"/>
<rect x="696.98" y="1083.50" width="1.80" height="52.20" fill="#000"/>
<rect x="690.13" y="1099.70" width="15.50" height="25.20" fill="#060203"/>
<rect x="717.87" y="1075.10" width="1.80" height="51.30" fill="#000"/>
<rect x="711.02" y="1077.70" width="15.50" height="47.20" fill="#060203"/>
<rect x="713.02" y="1079.70" width="11.50" height="43.20" fill="#4a9f57"/>
<rect x="738.76" y="1080.90" width="1.80" height="36.80" fill="#000"/>
<rect x="731.91" y="1080.90" width="15.50" height="28.70" fill="#060203"/>
<rect x="759.65" y="1105.50" width="1.80" height="39.70" fill="#000"/>
<rect x="752.80" y="1109.00" width="15.50" height="25.50" fill="#060203"/>
<rect x="780.55" y="1133.60" width="1.80" height="55.10" fill="#000"/>
<rect x="773.70" y="1140.00" width="15.50" height="34.20" fill="#060203"/>
<rect x="801.44" y="1109.00" width="1.80" height="86.90" fill="#000"/>
<rect x="794.59" y="1121.20" width="15.50" height="55.90" fill="#060203"/>
<rect x="796.59" y="1123.20" width="11.50" height="51.90" fill="#4a9f57"/>
<rect x="822.33" y="1111.30" width="1.80" height="37.70" fill="#000"/>
<rect x="815.48" y="1124.30" width="15.50" height="16.00" fill="#060203"/>
<rect x="843.23" y="1118.30" width="1.80" height="37.10" fill="#000"/>
<rect x="836.38" y="1143.20" width="15.50" height="12.20" fill="#060203"/>
<rect x="864.12" y="1155.40" width="1.80" height="67.50" fill="#000"/>
<rect x="857.27" y="1155.40" width="15.50" height="62.30" fill="#060203"/>
<rect x="885.01" y="1177.10" width="1.80" height="49.30" fill="#000"/>
<rect x="878.16" y="1183.50" width="15.50" height="33.60" fill="#060203"/>
<rect x="880.16" y="1185.50" width="11.50" height="29.60" fill="#4a9f57"/>
<rect x="905.91" y="1083.50" width="1.80" height="201.70" fill="#000"/>
<rect x="899.06" y="1109.60" width="15.50" height="70.40" fill="#060203"/>
<rect x="901.06" y="1111.60" width="11.50" height="66.40" fill="#4a9f57"/>
<rect x="926.80" y="1099.70" width="1.80" height="102.00" fill="#000"/>
<rect x="919.95" y="1105.45" width="15.50" height="4.20" fill="#060203"/>
<rect x="921.95" y="1107.25" width="11.50" height="0.60" fill="#7fa37e"/>
<rect x="947.69" y="1077.70" width="1.80" height="102.30" fill="#000"/>
<rect x="940.84" y="1105.45" width="15.50" height="4.20" fill="#060203"/>
<rect x="942.84" y="1107.25" width="11.50" height="0.60" fill="#7fa37e"/>
<rect x="968.59" y="1058.80" width="1.80" height="102.40" fill="#000"/>
<rect x="961.74" y="1109.00" width="15.50" height="21.70" fill="#060203"/>
<rect x="989.48" y="997.40" width="1.80" height="155.10" fill="#000"/>
<rect x="982.63" y="1006.70" width="15.50" height="127.50" fill="#060203"/>
<rect x="984.63" y="1008.70" width="11.50" height="123.50" fill="#4a9f57"/>
<rect x="1010.37" y="984.90" width="1.80" height="61.80" fill="#000"/>
<rect x="1003.52" y="1004.45" width="15.50" height="3.00" fill="#060203"/>
<rect x="1031.26" y="969.30" width="1.80" height="98.30" fill="#000"/>
<rect x="1024.41" y="1000.20" width="15.50" height="31.40" fill="#060203"/>
<rect x="1052.16" y="937.70" width="1.80" height="98.90" fill="#000"/>
<rect x="1045.31" y="1021.90" width="15.50" height="3.00" fill="#060203"/>
<rect x="1073.05" y="997.30" width="1.80" height="70.30" fill="#000"/>
<rect x="1066.20" y="1015.70" width="15.50" height="6.60" fill="#060203"/>
<rect x="1068.20" y="1017.50" width="11.50" height="3.00" fill="#7fa37e"/>
<rect x="1093.94" y="892.00" width="1.80" height="135.40" fill="#000"/>
<rect x="1087.09" y="941.70" width="15.50" height="76.80" fill="#060203"/>
<rect x="1089.09" y="943.70" width="11.50" height="72.80" fill="#4a9f57"/>
<rect x="1114.84" y="903.70" width="1.80" height="74.40" fill="#000"/>
<rect x="1107.99" y="935.70" width="15.50" height="8.60" fill="#060203"/>
<rect x="1109.99" y="937.70" width="11.50" height="4.60" fill="#4a9f57"/>
<rect x="1135.73" y="919.20" width="1.80" height="75.00" fill="#000"/>
<rect x="1128.88" y="931.80" width="15.50" height="62.40" fill="#060203"/>
<rect x="1156.62" y="922.50" width="1.80" height="99.10" fill="#000"/>
<rect x="1149.77" y="938.40" width="15.50" height="51.90" fill="#060203"/>
<rect x="1151.77" y="940.40" width="11.50" height="47.90" fill="#4a9f57"/>
<rect x="1177.51" y="916.30" width="1.80" height="89.40" fill="#000"/>
<rect x="1170.66" y="937.70" width="15.50" height="62.50" fill="#060203"/>
<rect x="1198.41" y="994.00" width="1.80" height="71.30" fill="#000"/>
<rect x="1191.56" y="994.00" width="15.50" height="18.80" fill="#060203"/>
<rect x="1219.30" y="1012.40" width="1.80" height="98.90" fill="#000"/>
<rect x="1212.45" y="1018.50" width="15.50" height="78.20" fill="#060203"/>
<rect x="1240.19" y="1075.30" width="1.80" height="54.50" fill="#000"/>
<rect x="1233.34" y="1096.30" width="15.50" height="6.10" fill="#060203"/>
<rect x="1261.09" y="1105.50" width="1.80" height="55.90" fill="#000"/>
<rect x="1254.24" y="1105.50" width="15.50" height="25.00" fill="#060203"/>
<rect x="1281.98" y="1049.20" width="1.80" height="103.40" fill="#000"/>
<rect x="1275.13" y="1059.40" width="15.50" height="70.60" fill="#060203"/>
<rect x="1277.13" y="1061.40" width="11.50" height="66.60" fill="#4a9f57"/>
<rect x="1302.87" y="954.50" width="1.80" height="113.10" fill="#000"/>
<rect x="1296.02" y="954.50" width="15.50" height="110.80" fill="#060203"/>
<rect x="1298.02" y="956.50" width="11.50" height="106.80" fill="#4a9f57"/>
<rect x="1323.77" y="928.40" width="1.80" height="59.20" fill="#000"/>
<rect x="1316.92" y="950.50" width="15.50" height="25.00" fill="#060203"/>
<rect x="1344.66" y="962.20" width="1.80" height="74.90" fill="#000"/>
<rect x="1337.81" y="972.20" width="15.50" height="25.40" fill="#060203"/>
<rect x="1365.55" y="937.70" width="1.80" height="86.80" fill="#000"/>
<rect x="1358.70" y="954.50" width="15.50" height="42.80" fill="#060203"/>
<rect x="1360.70" y="956.50" width="11.50" height="38.80" fill="#4a9f57"/>
<rect x="1386.44" y="875.50" width="1.80" height="78.30" fill="#000"/>
<rect x="1379.60" y="882.70" width="15.50" height="71.10" fill="#060203"/>
<rect x="1381.60" y="884.70" width="11.50" height="67.10" fill="#4a9f57"/>
<rect x="1407.34" y="869.30" width="1.80" height="62.50" fill="#000"/>
<rect x="1400.49" y="885.40" width="15.50" height="3.30" fill="#060203"/>
<rect x="1428.23" y="875.50" width="1.80" height="49.60" fill="#000"/>
<rect x="1421.38" y="882.10" width="15.50" height="37.10" fill="#060203"/>
<rect x="1449.12" y="857.40" width="1.80" height="68.20" fill="#000"/>
<rect x="1442.27" y="879.40" width="15.50" height="46.20" fill="#060203"/>
<rect x="1444.27" y="881.40" width="11.50" height="42.20" fill="#4a9f57"/>
<rect x="1470.02" y="844.90" width="1.80" height="46.50" fill="#000"/>
<rect x="1463.17" y="879.30" width="15.50" height="9.30" fill="#060203"/>
<rect x="1490.91" y="869.30" width="1.80" height="49.90" fill="#000"/>
<rect x="1484.06" y="885.40" width="15.50" height="33.80" fill="#060203"/>
<rect x="1511.80" y="879.30" width="1.80" height="46.40" fill="#000"/>
<rect x="1504.95" y="904.00" width="15.50" height="14.80" fill="#060203"/>
<rect x="1506.95" y="906.00" width="11.50" height="10.80" fill="#4a9f57"/>
<rect x="1532.70" y="879.30" width="1.80" height="45.70" fill="#000"/>
<rect x="1525.85" y="910.70" width="15.50" height="5.90" fill="#060203"/>
<rect x="1553.59" y="913.50" width="1.80" height="61.20" fill="#000"/>
<rect x="1546.74" y="916.60" width="15.50" height="31.20" fill="#060203"/>
<rect x="1574.48" y="931.60" width="1.80" height="67.80" fill="#000"/>
<rect x="1567.63" y="944.90" width="15.50" height="43.70" fill="#060203"/>
<rect x="1595.38" y="975.10" width="1.80" height="61.90" fill="#000"/>
<rect x="1588.53" y="990.80" width="15.50" height="31.80" fill="#060203"/>
<rect x="1616.27" y="1009.40" width="1.80" height="46.30" fill="#000"/>
<rect x="1609.42" y="1022.60" width="15.50" height="27.20" fill="#060203"/>
<rect x="1637.16" y="990.80" width="1.80" height="58.50" fill="#000"/>
<rect x="1630.31" y="1000.70" width="15.50" height="48.60" fill="#060203"/>
<rect x="1632.31" y="1002.70" width="11.50" height="44.60" fill="#4a9f57"/>
<rect x="1658.05" y="994.10" width="1.80" height="33.60" fill="#000"/>
<rect x="1651.20" y="997.40" width="15.50" height="3.10" fill="#060203"/>
<rect x="1678.95" y="950.40" width="1.80" height="52.50" fill="#000"/>
<rect x="1672.10" y="994.60" width="15.50" height="5.50" fill="#060203"/>
<rect x="1674.10" y="996.40" width="11.50" height="1.90" fill="#7fa37e"/>
<rect x="1699.84" y="972.00" width="1.80" height="55.70" fill="#000"/>
<rect x="1692.99" y="997.40" width="15.50" height="15.50" fill="#060203"/>
<rect x="1720.73" y="994.10" width="1.80" height="36.90" fill="#000"/>
<rect x="1713.88" y="1003.80" width="15.50" height="11.70" fill="#060203"/>
<rect x="1715.88" y="1005.80" width="11.50" height="7.70" fill="#4a9f57"/>
<rect x="1741.63" y="969.20" width="1.80" height="36.40" fill="#000"/>
<rect x="1734.78" y="988.60" width="15.50" height="11.50" fill="#060203"/>
<rect x="1736.78" y="990.60" width="11.50" height="7.50" fill="#4a9f57"/>
<rect x="1762.52" y="984.60" width="1.80" height="64.10" fill="#000"/>
<rect x="1755.67" y="994.60" width="15.50" height="53.00" fill="#060203"/>
<rect x="1783.41" y="1012.90" width="1.80" height="52.30" fill="#000"/>
<rect x="1776.56" y="1040.75" width="15.50" height="3.00" fill="#060203"/>
<rect x="1804.30" y="1034.30" width="1.80" height="40.20" fill="#000"/>
<rect x="1797.45" y="1041.40" width="15.50" height="21.20" fill="#060203"/>
<rect x="1825.20" y="1056.40" width="1.80" height="79.00" fill="#000"/>
<rect x="1818.35" y="1065.70" width="15.50" height="21.60" fill="#060203"/>
<rect x="1846.09" y="1028.30" width="1.80" height="61.20" fill="#000"/>
<rect x="1839.24" y="1037.60" width="15.50" height="49.30" fill="#060203"/>
<rect x="1841.24" y="1039.60" width="11.50" height="45.30" fill="#4a9f57"/>
<rect x="1866.98" y="990.80" width="1.80" height="51.90" fill="#000"/>
<rect x="1860.13" y="1000.70" width="15.50" height="33.60" fill="#060203"/>
<rect x="1862.13" y="1002.70" width="11.50" height="29.60" fill="#4a9f57"/>
<rect x="1887.88" y="965.90" width="1.80" height="49.00" fill="#000"/>
<rect x="1881.03" y="981.30" width="15.50" height="18.80" fill="#060203"/>
<rect x="1883.03" y="983.30" width="11.50" height="14.80" fill="#4a9f57"/>
<rect x="1908.77" y="935.40" width="1.80" height="48.60" fill="#000"/>
<rect x="1901.92" y="954.40" width="15.50" height="26.90" fill="#060203"/>
<rect x="1903.92" y="956.40" width="11.50" height="22.90" fill="#4a9f57"/>
<rect x="1929.66" y="922.40" width="1.80" height="31.80" fill="#000"/>
<rect x="1922.81" y="944.90" width="15.50" height="9.30" fill="#060203"/>
<rect x="1924.81" y="946.90" width="11.50" height="5.30" fill="#4a9f57"/>
<rect x="1950.56" y="926.10" width="1.80" height="29.80" fill="#000"/>
<rect x="1943.71" y="935.60" width="15.50" height="6.00" fill="#060203"/>
<rect x="1945.71" y="937.40" width="11.50" height="2.40" fill="#7fa37e"/>
<rect x="1971.45" y="922.40" width="1.80" height="39.00" fill="#000"/>
<rect x="1964.60" y="932.30" width="15.50" height="24.10" fill="#060203"/>
<rect x="1992.34" y="956.30" width="1.80" height="31.40" fill="#000"/>
<rect x="1985.49" y="959.90" width="15.50" height="21.80" fill="#060203"/>
<rect x="2013.23" y="959.90" width="1.80" height="24.80" fill="#000"/>
<rect x="2006.38" y="978.60" width="15.50" height="3.10" fill="#060203"/>
<rect x="2034.13" y="972.00" width="1.80" height="53.00" fill="#000"/>
<rect x="2027.28" y="978.60" width="15.50" height="46.40" fill="#060203"/>
<rect x="2055.02" y="927.90" width="1.80" height="96.10" fill="#000"/>
<rect x="2048.17" y="941.50" width="15.50" height="77.30" fill="#060203"/>
<rect x="2050.17" y="943.50" width="11.50" height="73.30" fill="#4a9f57"/>
<rect x="2075.91" y="820.10" width="1.80" height="117.20" fill="#000"/>
<rect x="2069.06" y="829.70" width="15.50" height="101.80" fill="#060203"/>
<rect x="2071.06" y="831.70" width="11.50" height="97.80" fill="#4a9f57"/>
<rect x="2096.81" y="711.50" width="1.80" height="123.70" fill="#000"/>
<rect x="2089.96" y="720.80" width="15.50" height="114.40" fill="#060203"/>
<rect x="2091.96" y="722.80" width="11.50" height="110.40" fill="#4a9f57"/>
<rect x="2117.70" y="621.40" width="1.80" height="102.20" fill="#000"/>
<rect x="2110.85" y="674.60" width="15.50" height="49.00" fill="#060203"/>
<rect x="2112.85" y="676.60" width="11.50" height="45.00" fill="#4a9f57"/>
<rect x="2138.59" y="667.30" width="1.80" height="71.40" fill="#000"/>
<rect x="2131.74" y="671.10" width="15.50" height="47.00" fill="#060203"/>
<rect x="2159.49" y="705.30" width="1.80" height="42.60" fill="#000"/>
<rect x="2152.64" y="714.40" width="15.50" height="9.70" fill="#060203"/>
<rect x="2180.38" y="683.90" width="1.80" height="45.30" fill="#000"/>
<rect x="2173.53" y="693.40" width="15.50" height="30.20" fill="#060203"/>
<rect x="2175.53" y="695.40" width="11.50" height="26.20" fill="#4a9f57"/>
<rect x="2201.27" y="674.40" width="1.80" height="58.50" fill="#000"/>
<rect x="2194.42" y="677.30" width="15.50" height="15.90" fill="#060203"/>
<rect x="2196.42" y="679.30" width="11.50" height="11.90" fill="#4a9f57"/>
<rect x="2222.16" y="667.30" width="1.80" height="50.20" fill="#000"/>
<rect x="2215.32" y="680.20" width="15.50" height="22.50" fill="#060203"/>
<rect x="2243.06" y="667.30" width="1.80" height="40.90" fill="#000"/>
<rect x="2236.21" y="686.60" width="15.50" height="15.60" fill="#060203"/>
<rect x="2238.21" y="688.60" width="11.50" height="11.60" fill="#4a9f57"/>
<rect x="2263.95" y="676.80" width="1.80" height="46.80" fill="#000"/>
<rect x="2257.10" y="686.10" width="15.50" height="28.30" fill="#060203"/>
<rect x="2284.84" y="711.50" width="1.80" height="51.90" fill="#000"/>
<rect x="2277.99" y="718.10" width="15.50" height="36.50" fill="#060203"/>
<rect x="2305.74" y="748.60" width="1.80" height="65.60" fill="#000"/>
<rect x="2298.89" y="754.60" width="15.50" height="59.60" fill="#060203"/>
<rect x="2326.63" y="776.60" width="1.80" height="61.90" fill="#000"/>
<rect x="2319.78" y="782.80" width="15.50" height="31.40" fill="#060203"/>
<rect x="2321.78" y="784.80" width="11.50" height="27.40" fill="#4a9f57"/>
<rect x="2347.52" y="711.50" width="1.80" height="77.30" fill="#000"/>
<rect x="2340.67" y="736.90" width="15.50" height="49.20" fill="#060203"/>
<rect x="2342.67" y="738.90" width="11.50" height="45.20" fill="#4a9f57"/>
<rect x="2368.42" y="708.60" width="1.80" height="45.30" fill="#000"/>
<rect x="2361.57" y="708.60" width="15.50" height="24.50" fill="#060203"/>
<rect x="2363.57" y="710.60" width="11.50" height="20.50" fill="#4a9f57"/>
<rect x="2389.31" y="711.50" width="1.80" height="200.90" fill="#000"/>
<rect x="2382.46" y="711.50" width="15.50" height="173.30" fill="#060203"/>
<rect x="2410.20" y="761.20" width="1.80" height="125.80" fill="#000"/>
<rect x="2403.35" y="789.40" width="15.50" height="92.80" fill="#060203"/>
<rect x="2405.35" y="791.40" width="11.50" height="88.80" fill="#4a9f57"/>
<rect x="2431.10" y="757.90" width="1.80" height="71.10" fill="#000"/>
<rect x="2424.25" y="782.80" width="15.50" height="15.30" fill="#060203"/>
<rect x="2426.25" y="784.80" width="11.50" height="11.30" fill="#4a9f57"/>
<rect x="2451.99" y="757.90" width="1.80" height="48.50" fill="#000"/>
<rect x="2445.14" y="782.80" width="15.50" height="18.60" fill="#060203"/>
<rect x="2472.88" y="795.40" width="1.80" height="108.20" fill="#000"/>
<rect x="2466.03" y="798.30" width="15.50" height="74.90" fill="#060203"/>
<rect x="2493.77" y="773.10" width="1.80" height="164.50" fill="#000"/>
<rect x="2486.92" y="869.80" width="15.50" height="56.60" fill="#060203"/>
<rect x="2514.67" y="807.00" width="1.80" height="127.70" fill="#000"/>
<rect x="2507.82" y="857.80" width="15.50" height="70.50" fill="#060203"/>
<rect x="2509.82" y="859.80" width="11.50" height="66.50" fill="#4a9f57"/>
<rect x="2535.56" y="854.30" width="1.80" height="89.80" fill="#000"/>
<rect x="2528.71" y="857.30" width="15.50" height="80.80" fill="#060203"/>
<rect x="2556.45" y="935.10" width="1.80" height="61.90" fill="#000"/>
<rect x="2549.60" y="938.10" width="15.50" height="47.00" fill="#060203"/>
<rect x="2577.35" y="971.80" width="1.80" height="50.10" fill="#000"/>
<rect x="2570.50" y="984.50" width="15.50" height="4.10" fill="#060203"/>
<rect x="2598.24" y="969.00" width="1.80" height="19.60" fill="#000"/>
<rect x="2591.39" y="981.10" width="15.50" height="7.50" fill="#060203"/>
<rect x="2619.13" y="962.30" width="1.80" height="25.20" fill="#000"/>
<rect x="2612.28" y="978.90" width="15.50" height="5.60" fill="#060203"/>
<rect x="2614.28" y="980.70" width="11.50" height="2.00" fill="#7fa37e"/>
<rect x="2640.03" y="971.80" width="1.80" height="15.70" fill="#000"/>
<rect x="2633.18" y="978.90" width="15.50" height="6.20" fill="#060203"/>
<rect x="2660.92" y="981.10" width="1.80" height="15.90" fill="#000"/>
<rect x="2654.07" y="987.85" width="15.50" height="3.00" fill="#060203"/>
<rect x="2681.81" y="981.50" width="1.80" height="15.50" fill="#000"/>
<rect x="2674.96" y="981.50" width="15.50" height="6.60" fill="#060203"/>
<rect x="2676.96" y="983.30" width="11.50" height="3.00" fill="#7fa37e"/>
<rect x="2702.70" y="971.80" width="1.80" height="12.70" fill="#000"/>
<rect x="2695.85" y="978.70" width="15.50" height="3.00" fill="#060203"/>
<rect x="2723.60" y="978.90" width="1.80" height="5.60" fill="#000"/>
<rect x="2716.75" y="978.70" width="15.50" height="3.00" fill="#060203"/>
<rect x="2744.49" y="981.10" width="1.80" height="37.70" fill="#000"/>
<rect x="2737.64" y="984.50" width="15.50" height="25.20" fill="#060203"/>
<rect x="2765.38" y="978.50" width="1.80" height="34.30" fill="#000"/>
<rect x="2758.53" y="1003.70" width="15.50" height="6.00" fill="#060203"/>
<rect x="2760.53" y="1005.50" width="11.50" height="2.40" fill="#7fa37e"/>
<rect x="2786.28" y="950.80" width="1.80" height="52.50" fill="#000"/>
<rect x="2779.43" y="956.90" width="15.50" height="46.40" fill="#060203"/>
<rect x="2781.43" y="958.90" width="11.50" height="42.40" fill="#4a9f57"/>
<rect x="2807.17" y="941.10" width="1.80" height="37.40" fill="#000"/>
<rect x="2800.32" y="941.10" width="15.50" height="25.20" fill="#060203"/>
<rect x="2828.06" y="962.30" width="1.80" height="31.30" fill="#000"/>
<rect x="2821.21" y="969.90" width="15.50" height="3.00" fill="#060203"/>
<rect x="2848.96" y="950.20" width="1.80" height="18.80" fill="#000"/>
<rect x="2842.11" y="954.75" width="15.50" height="3.00" fill="#060203"/>
<rect x="2869.85" y="944.50" width="1.80" height="31.30" fill="#000"/>
<rect x="2863.00" y="959.90" width="15.50" height="15.90" fill="#060203"/>
<rect x="2890.74" y="978.90" width="1.80" height="43.60" fill="#000"/>
<rect x="2883.89" y="978.90" width="15.50" height="43.60" fill="#060203"/>
<rect x="2911.63" y="984.50" width="1.80" height="30.30" fill="#000"/>
<rect x="2904.78" y="988.10" width="15.50" height="24.70" fill="#060203"/>
<rect x="2906.78" y="990.10" width="11.50" height="20.70" fill="#4a9f57"/>
<rect x="2932.53" y="972.10" width="1.80" height="31.30" fill="#000"/>
<rect x="2925.68" y="990.60" width="15.50" height="12.80" fill="#060203"/>
<rect x="2953.42" y="997.30" width="1.80" height="15.20" fill="#000"/>
<rect x="2946.57" y="1000.30" width="15.50" height="3.10" fill="#060203"/>
<rect x="2974.31" y="1006.40" width="1.80" height="40.40" fill="#000"/>
<rect x="2967.46" y="1006.40" width="15.50" height="3.00" fill="#060203"/>
<rect x="2995.21" y="988.20" width="1.80" height="17.60" fill="#000"/>
<rect x="2988.36" y="997.30" width="15.50" height="6.10" fill="#060203"/>
<rect x="2990.36" y="999.10" width="11.50" height="2.50" fill="#7fa37e"/>
<rect x="3016.10" y="972.10" width="1.80" height="30.70" fill="#000"/>
<rect x="3009.25" y="978.90" width="15.50" height="18.40" fill="#060203"/>
<rect x="3011.25" y="980.90" width="11.50" height="14.40" fill="#4a9f57"/>
<rect x="3036.99" y="984.60" width="1.80" height="68.00" fill="#000"/>
<rect x="3030.14" y="984.60" width="15.50" height="12.70" fill="#060203"/>
<rect x="3057.89" y="997.30" width="1.80" height="49.50" fill="#000"/>
<rect x="3051.04" y="997.30" width="15.50" height="34.30" fill="#060203"/>
<rect x="3078.78" y="1015.30" width="1.80" height="18.10" fill="#000"/>
<rect x="3071.93" y="1022.50" width="15.50" height="6.10" fill="#060203"/>
<rect x="3099.67" y="1028.40" width="1.80" height="15.10" fill="#000"/>
<rect x="3092.82" y="1028.40" width="15.50" height="15.10" fill="#060203"/>
<rect x="3120.56" y="1034.00" width="1.80" height="15.20" fill="#000"/>
<rect x="3113.71" y="1037.50" width="15.50" height="9.70" fill="#060203"/>
<rect x="3115.71" y="1039.50" width="11.50" height="5.70" fill="#4a9f57"/>
<rect x="3141.46" y="1041.10" width="1.80" height="20.80" fill="#000"/>
<rect x="3134.61" y="1041.10" width="15.50" height="6.10" fill="#060203"/>
<rect x="3162.35" y="1034.00" width="1.80" height="49.10" fill="#000"/>
<rect x="3155.50" y="1037.50" width="15.50" height="37.90" fill="#060203"/>
<rect x="3183.24" y="1006.20" width="1.80" height="65.20" fill="#000"/>
<rect x="3176.39" y="1018.90" width="15.50" height="52.50" fill="#060203"/>
<rect x="3178.39" y="1020.90" width="11.50" height="48.50" fill="#4a9f57"/>
<rect x="3204.14" y="1018.50" width="1.80" height="18.20" fill="#000"/>
<rect x="3197.29" y="1024.60" width="15.50" height="4.20" fill="#060203"/>
<rect x="3199.29" y="1026.40" width="11.50" height="0.60" fill="#7fa37e"/>
<rect x="3225.03" y="1009.20" width="1.80" height="27.90" fill="#000"/>
<rect x="3218.18" y="1022.15" width="15.50" height="3.00" fill="#060203"/>
<rect x="3245.92" y="990.60" width="1.80" height="34.00" fill="#000"/>
<rect x="3239.07" y="997.30" width="15.50" height="27.30" fill="#060203"/>
<rect x="3241.07" y="999.30" width="11.50" height="23.30" fill="#4a9f57"/>
<rect x="3266.82" y="969.10" width="1.80" height="33.70" fill="#000"/>
<rect x="3259.97" y="972.10" width="15.50" height="28.20" fill="#060203"/>
<rect x="3261.97" y="974.10" width="11.50" height="24.20" fill="#4a9f57"/>
<rect x="3287.71" y="966.00" width="1.80" height="18.60" fill="#000"/>
<rect x="3280.86" y="966.00" width="15.50" height="15.60" fill="#060203"/>
<rect x="3308.60" y="978.90" width="1.80" height="20.80" fill="#000"/>
<rect x="3301.75" y="986.40" width="15.50" height="3.00" fill="#060203"/>
<rect x="3329.49" y="997.30" width="1.80" height="27.30" fill="#000"/>
<rect x="3322.64" y="1000.30" width="15.50" height="22.20" fill="#060203"/>
<rect x="3350.39" y="1006.20" width="1.80" height="18.20" fill="#000"/>
<rect x="3343.54" y="1015.50" width="15.50" height="6.80" fill="#060203"/>
<rect x="3345.54" y="1017.30" width="11.50" height="3.20" fill="#7fa37e"/>
<rect x="3371.28" y="1012.90" width="1.80" height="49.80" fill="#000"/>
<rect x="3364.43" y="1012.90" width="15.50" height="49.80" fill="#060203"/>
<rect x="3392.17" y="1034.00" width="1.80" height="37.40" fill="#000"/>
<rect x="3385.32" y="1041.10" width="15.50" height="21.60" fill="#060203"/>
<rect x="3387.32" y="1043.10" width="11.50" height="17.60" fill="#4a9f57"/>
<rect x="3413.07" y="1034.10" width="1.80" height="24.80" fill="#000"/>
<rect x="3406.22" y="1046.90" width="15.50" height="6.60" fill="#060203"/>
<rect x="3433.96" y="1047.30" width="1.80" height="39.60" fill="#000"/>
<rect x="3427.11" y="1049.20" width="15.50" height="19.30" fill="#060203"/>
<rect x="3454.85" y="1065.60" width="1.80" height="43.10" fill="#000"/>
<rect x="3448.00" y="1065.60" width="15.50" height="25.20" fill="#060203"/>
<rect x="3475.75" y="1087.30" width="1.80" height="24.10" fill="#000"/>
<rect x="3468.90" y="1086.95" width="15.50" height="4.20" fill="#060203"/>
<rect x="3470.90" y="1088.75" width="11.50" height="0.60" fill="#7fa37e"/>
<rect x="3496.64" y="1087.30" width="1.80" height="67.20" fill="#000"/>
<rect x="3489.79" y="1090.40" width="15.50" height="44.20" fill="#060203"/>
<rect x="3517.53" y="1130.00" width="1.80" height="12.90" fill="#000"/>
<rect x="3510.68" y="1129.15" width="15.50" height="3.00" fill="#060203"/>
<rect x="3538.42" y="1124.60" width="1.80" height="33.80" fill="#000"/>
<rect x="3531.57" y="1130.20" width="15.50" height="4.20" fill="#060203"/>
<rect x="3533.57" y="1132.00" width="11.50" height="0.60" fill="#7fa37e"/>
<rect x="3559.32" y="1130.40" width="1.80" height="15.40" fill="#000"/>
<rect x="3552.47" y="1134.00" width="15.50" height="3.00" fill="#060203"/>
<rect x="3580.21" y="1115.50" width="1.80" height="24.20" fill="#000"/>
<rect x="3573.36" y="1115.50" width="15.50" height="12.00" fill="#060203"/>
<rect x="3575.36" y="1117.50" width="11.50" height="8.00" fill="#4a9f57"/>
<rect x="3601.10" y="1121.10" width="1.80" height="18.90" fill="#000"/>
<rect x="3594.25" y="1121.10" width="15.50" height="9.70" fill="#060203"/>
<rect x="3622.00" y="1124.60" width="1.80" height="11.00" fill="#000"/>
<rect x="3615.15" y="1128.70" width="15.50" height="3.00" fill="#060203"/>
<rect x="3642.89" y="1130.40" width="1.80" height="24.50" fill="#000"/>
<rect x="3636.04" y="1130.40" width="15.50" height="16.00" fill="#060203"/>
<rect x="3663.78" y="1140.00" width="1.80" height="19.00" fill="#000"/>
<rect x="3656.93" y="1145.80" width="15.50" height="13.20" fill="#060203"/>
<rect x="3684.68" y="1109.10" width="1.80" height="77.30" fill="#000"/>
<rect x="3677.83" y="1127.50" width="15.50" height="27.60" fill="#060203"/>
<rect x="3679.83" y="1129.50" width="11.50" height="23.60" fill="#4a9f57"/>
<rect x="3705.57" y="1115.50" width="1.80" height="21.30" fill="#000"/>
<rect x="3698.72" y="1124.20" width="15.50" height="12.60" fill="#060203"/>
<rect x="3726.46" y="1134.20" width="1.80" height="20.30" fill="#000"/>
<rect x="3719.61" y="1136.20" width="15.50" height="17.00" fill="#060203"/>
<rect x="3747.35" y="1136.80" width="1.80" height="25.10" fill="#000"/>
<rect x="3740.50" y="1136.80" width="15.50" height="15.80" fill="#060203"/>
<rect x="3742.50" y="1138.80" width="11.50" height="11.80" fill="#4a9f57"/>
<rect x="3768.25" y="1139.10" width="1.80" height="13.50" fill="#000"/>
<rect x="3761.40" y="1138.35" width="15.50" height="3.00" fill="#060203"/>
<rect x="3789.14" y="1130.40" width="1.80" height="28.60" fill="#000"/>
<rect x="3782.29" y="1136.20" width="15.50" height="22.80" fill="#060203"/>
<rect x="3810.03" y="1146.40" width="1.80" height="12.00" fill="#000"/>
<rect x="3803.18" y="1146.40" width="15.50" height="8.70" fill="#060203"/>
<rect x="3805.18" y="1148.40" width="11.50" height="4.70" fill="#4a9f57"/>
<rect x="3830.93" y="1134.20" width="1.80" height="30.00" fill="#000"/>
<rect x="3824.08" y="1147.25" width="15.50" height="3.00" fill="#060203"/>
<rect x="17.00" y="1994.90" width="3823.00" height="1.50" fill="#050505"/>
<rect x="17.00" y="2052.90" width="3823.00" height="1.20" fill="#3a3a3a"/>
<g fill="#131722"><path d="M17 2121 H30 V2137.5 H24 V2127.5 H17 Z"/><circle cx="36" cy="2124.8" r="3.7"/><path d="M43 2121 H50 L43.7 2137.5 H36.2 Z"/></g>
<rect x="3772" y="1191.2" width="80" height="28.5" rx="4" fill="#7c30b0"/><rect x="3775" y="1191.2" width="70" height="1.2" fill="#55216f"/><rect x="3775" y="1218.4" width="70" height="1.3" fill="#6a2590"/>
</svg>
<div style="position:absolute;left:3393px;top:63px;width:447px;height:760.5px;background:#71707d;border-top:1px solid #5e5d68;border-left:1px solid #5e5d68;box-sizing:border-box"></div>
<div style="position:absolute;left:3393px;top:63px;width:15px;height:760.5px;background:#74717a"></div>
<div style="position:absolute;left:3776px;top:103px;width:64px;height:80px;background:#fdfdfd"></div>
<div style="position:absolute;left:3693px;top:263px;width:147px;height:40px;background:#fdfdfd"></div>
<div style="position:absolute;left:3693px;top:543px;width:147px;height:40px;background:#fdfdfd"></div>
<div class="t" style="left:18.0px;top:16.0px;font-size:21px;font-weight:400;color:#131722;transform:scaleX(1.0332)">wildtrade1 published on TradingView.com, Mar 06, 2025 16:25 UTC-6</div><div class="t" style="left:30.7px;top:62.8px;font-size:21.5px;font-weight:400;color:#131722;transform:scaleX(0.9872)">E-Mini Russell 2000 Index Futures · 5 · CME</div><div class="t" style="left:464.4px;top:62.8px;font-size:21.5px;font-weight:400;color:#131722;transform:scaleX(0.9789)">O2,278.4</div><div class="t" style="left:563.6px;top:62.8px;font-size:21.5px;font-weight:400;color:#131722;transform:scaleX(0.9866)">H2,278.5</div><div class="t" style="left:662.3px;top:62.8px;font-size:21.5px;font-weight:400;color:#131722;transform:scaleX(0.9904)">L2,278.0</div><div class="t" style="left:757.8px;top:62.8px;font-size:21.5px;font-weight:400;color:#131722;transform:scaleX(0.9763)">C2,278.2</div><div class="t" style="left:856.0px;top:62.8px;font-size:21.5px;font-weight:400;color:#131722;transform:scaleX(0.9981)">−0.5 (−0.02%)</div><div class="t" style="left:1006.0px;top:62.8px;font-size:21.5px;font-weight:400;color:#131722;transform:scaleX(0.9961)">Vol22</div><div class="t" style="left:31.6px;top:90.9px;font-size:21.5px;font-weight:400;color:#131722;transform:scaleX(0.9434)">Vol</div><div class="t" style="left:72.8px;top:90.9px;font-size:21.5px;font-weight:400;color:#e0534e;transform:scaleX(0.9615)">22</div><div class="t" style="left:30.7px;top:120.0px;font-size:21.5px;font-weight:400;color:#131722;transform:scaleX(1.0075)">Wildtrades opening range with stats 1.0</div><div class="t" style="left:423.0px;top:120.0px;font-size:21.5px;font-weight:400;color:#22ab7e;transform:scaleX(1.0176)">2,285.4</div><div class="t" style="left:508.6px;top:120.0px;font-size:21.5px;font-weight:400;color:#22ab7e;transform:scaleX(1.0135)">2,288.6</div><div class="t" style="left:593.8px;top:120.0px;font-size:21.5px;font-weight:400;color:#22ab7e;transform:scaleX(0.9549)">2,295.1</div><div class="t" style="left:675.4px;top:120.0px;font-size:21.5px;font-weight:400;color:#787b86;transform:scaleX(0.9605)">2,301.6</div><div class="t" style="left:757.8px;top:120.0px;font-size:21.5px;font-weight:400;color:#787b86;transform:scaleX(0.9744)">2,308.1</div><div class="t" style="left:839.8px;top:120.0px;font-size:21.5px;font-weight:400;color:#787b86;transform:scaleX(0.9675)">2,314.6</div><div class="t" style="left:922.2px;top:120.0px;font-size:21.5px;font-weight:400;color:#787b86;transform:scaleX(0.9939)">2,272.4</div><div class="t" style="left:1006.2px;top:120.0px;font-size:21.5px;font-weight:400;color:#787b86;transform:scaleX(0.9702)">2,269.1</div><div class="t" style="left:1087.6px;top:120.0px;font-size:21.5px;font-weight:400;color:#787b86;transform:scaleX(1.0093)">2,262.6</div><div class="t" style="left:1172.7px;top:120.0px;font-size:21.5px;font-weight:400;color:#787b86;transform:scaleX(0.9661)">2,256.1</div><div class="t" style="left:1254.7px;top:120.0px;font-size:21.5px;font-weight:400;color:#787b86;transform:scaleX(1.0121)">2,249.6</div><div class="t" style="left:1339.8px;top:120.0px;font-size:21.5px;font-weight:400;color:#787b86;transform:scaleX(0.9605)">2,243.1</div><div class="t" style="left:1421.0px;top:120.0px;font-size:21.5px;font-weight:400;color:#787b86;transform:scaleX(1.0149)">2,280.5</div><div class="t" style="left:1506.2px;top:120.0px;font-size:21.5px;font-weight:400;color:#787b86;transform:scaleX(0.9953)">2,279.6</div><div class="t" style="left:1590.0px;top:120.0px;font-size:21.5px;font-weight:400;color:#787b86;transform:scaleX(0.9535)">2,278.1</div><div class="t" style="left:1669.6px;top:120.0px;font-size:21.5px;font-weight:400;color:#787b86;transform:scaleX(0.9675)">2,277.2</div><div class="t" style="left:2061.0px;top:672.1px;font-size:20.7px;font-weight:400;color:#131722;transform:scaleX(1.0464)">2.0</div><div class="t" style="left:1332.7px;top:873.0px;font-size:20.7px;font-weight:400;color:#131722;transform:scaleX(0.9942)">1.0</div><div class="t" style="left:972.9px;top:973.6px;font-size:20.7px;font-weight:400;color:#131722;transform:scaleX(1.0116)">0.5</div><div class="t" style="left:950.0px;top:1073.9px;font-size:20px;font-weight:400;color:#131722;transform:scaleX(0.8244)">B</div><div class="t" style="left:31.3px;top:2013.1px;font-size:22px;font-weight:400;color:#131722;transform:scaleX(0.9956)">Stochastic Oscillator with Candlesticks</div><div class="t" style="left:418.0px;top:2013.1px;font-size:22px;font-weight:400;color:#2a56d2;transform:scaleX(0.9947)">46.9</div><div class="t" style="left:473.0px;top:2013.1px;font-size:22px;font-weight:400;color:#e2981d;transform:scaleX(0.9106)">37.6</div><div class="t" style="left:125.9px;top:2067.7px;font-size:22px;font-weight:400;color:#131722;transform:scaleX(1.0461)">05:30</div><div class="t" style="left:248.7px;top:2067.7px;font-size:22px;font-weight:700;color:#131722;transform:scaleX(1.1123)">06:00</div><div class="t" style="left:376.6px;top:2067.7px;font-size:22px;font-weight:400;color:#131722;transform:scaleX(1.0461)">06:30</div><div class="t" style="left:499.4px;top:2067.7px;font-size:22px;font-weight:700;color:#131722;transform:scaleX(1.1123)">07:00</div><div class="t" style="left:627.3px;top:2067.7px;font-size:22px;font-weight:400;color:#131722;transform:scaleX(1.0461)">07:30</div><div class="t" style="left:750.1px;top:2067.7px;font-size:22px;font-weight:700;color:#131722;transform:scaleX(1.1123)">08:00</div><div class="t" style="left:878.0px;top:2067.7px;font-size:22px;font-weight:400;color:#131722;transform:scaleX(1.0461)">08:30</div><div class="t" style="left:1000.9px;top:2067.7px;font-size:22px;font-weight:700;color:#131722;transform:scaleX(1.1123)">09:00</div><div class="t" style="left:1128.7px;top:2067.7px;font-size:22px;font-weight:400;color:#131722;transform:scaleX(1.0461)">09:30</div><div class="t" style="left:1251.6px;top:2067.7px;font-size:22px;font-weight:700;color:#131722;transform:scaleX(1.1123)">10:00</div><div class="t" style="left:1379.4px;top:2067.7px;font-size:22px;font-weight:400;color:#131722;transform:scaleX(1.0461)">10:30</div><div class="t" style="left:1502.3px;top:2067.7px;font-size:22px;font-weight:700;color:#131722;transform:scaleX(1.1369)">11:00</div><div class="t" style="left:1630.2px;top:2067.7px;font-size:22px;font-weight:400;color:#131722;transform:scaleX(1.0782)">11:30</div><div class="t" style="left:1753.0px;top:2067.7px;font-size:22px;font-weight:700;color:#131722;transform:scaleX(1.1123)">12:00</div><div class="t" style="left:1880.9px;top:2067.7px;font-size:22px;font-weight:400;color:#131722;transform:scaleX(1.0461)">12:30</div><div class="t" style="left:2003.7px;top:2067.7px;font-size:22px;font-weight:700;color:#131722;transform:scaleX(1.1123)">13:00</div><div class="t" style="left:2131.6px;top:2067.7px;font-size:22px;font-weight:400;color:#131722;transform:scaleX(1.0461)">13:30</div><div class="t" style="left:2254.4px;top:2067.7px;font-size:22px;font-weight:700;color:#131722;transform:scaleX(1.1123)">14:00</div><div class="t" style="left:2382.3px;top:2067.7px;font-size:22px;font-weight:400;color:#131722;transform:scaleX(1.0461)">14:30</div><div class="t" style="left:2505.2px;top:2067.7px;font-size:22px;font-weight:700;color:#131722;transform:scaleX(1.1123)">15:00</div><div class="t" style="left:2633.0px;top:2067.7px;font-size:22px;font-weight:400;color:#131722;transform:scaleX(1.0461)">15:30</div><div class="t" style="left:2755.9px;top:2067.7px;font-size:22px;font-weight:700;color:#131722;transform:scaleX(1.1123)">17:00</div><div class="t" style="left:2883.7px;top:2067.7px;font-size:22px;font-weight:400;color:#131722;transform:scaleX(1.0461)">17:30</div><div class="t" style="left:3006.6px;top:2067.7px;font-size:22px;font-weight:700;color:#131722;transform:scaleX(1.1123)">18:00</div><div class="t" style="left:3134.5px;top:2067.7px;font-size:22px;font-weight:400;color:#131722;transform:scaleX(1.0461)">18:30</div><div class="t" style="left:3257.3px;top:2067.7px;font-size:22px;font-weight:700;color:#131722;transform:scaleX(1.1123)">19:00</div><div class="t" style="left:3385.2px;top:2067.7px;font-size:22px;font-weight:400;color:#131722;transform:scaleX(1.0461)">19:30</div><div class="t" style="left:3508.0px;top:2067.7px;font-size:22px;font-weight:700;color:#131722;transform:scaleX(1.1123)">20:00</div><div class="t" style="left:3635.9px;top:2067.7px;font-size:22px;font-weight:400;color:#131722;transform:scaleX(1.0461)">20:30</div><div class="t" style="left:3758.7px;top:2067.7px;font-size:22px;font-weight:700;color:#131722;transform:scaleX(1.1123)">21:00</div><div class="t" style="left:-2.0px;top:2067.7px;font-size:22px;font-weight:700;color:#131722;transform:scaleX(1.1123)">05:00</div><div class="t" style="left:57.1px;top:2119.4px;font-size:22.9px;font-weight:400;color:#131722;transform:scaleX(0.9963)">TradingView</div><div class="t" style="left:3779.8px;top:1195.1px;font-size:20.8px;font-weight:400;color:#ffffff;transform:scaleX(1.0000)">RTYH2025</div><div class="t" style="left:3510.5px;top:72.0px;font-size:24px;font-weight:400;color:#f0cf4a;transform:scaleX(1.0000)">Metric</div><div class="t" style="left:3702.8px;top:72.0px;font-size:24px;font-weight:400;color:#f0cf4a;transform:scaleX(1.0000)">Count</div><div class="t" style="left:3785.2px;top:72.0px;font-size:24px;font-weight:400;color:#f0cf4a;transform:scaleX(1.0000)">Percent</div><div class="t" style="left:3500.5px;top:112.0px;font-size:24px;font-weight:400;color:#f4f4f6;transform:scaleX(1.0000)">Session</div><div class="t" style="left:3710.4px;top:112.0px;font-size:24px;font-weight:400;color:#23b07a;transform:scaleX(1.0000)">RTH</div><div class="t" style="left:3487.2px;top:152.0px;font-size:24px;font-weight:400;color:#f4f4f6;transform:scaleX(1.0000)">Total Days</div><div class="t" style="left:3721.4px;top:152.0px;font-size:24px;font-weight:400;color:#f4f4f6;transform:scaleX(1.0000)">75</div><div class="t" style="left:3464.5px;top:192.0px;font-size:24px;font-weight:400;color:#f4f4f6;transform:scaleX(1.0000)">Breakout Days</div><div class="t" style="left:3721.4px;top:192.0px;font-size:24px;font-weight:400;color:#f4f4f6;transform:scaleX(1.0000)">75</div><div class="t" style="left:3785.9px;top:192.0px;font-size:24px;font-weight:400;color:#f4f4f6;transform:scaleX(1.0000)">100.1%</div><div class="t" style="left:3483.2px;top:232.0px;font-size:24px;font-weight:400;color:#f4f4f6;transform:scaleX(1.0000)">False Days</div><div class="t" style="left:3721.4px;top:232.0px;font-size:24px;font-weight:400;color:#f4f4f6;transform:scaleX(1.0000)">43</div><div class="t" style="left:3792.6px;top:232.0px;font-size:24px;font-weight:400;color:#f4f4f6;transform:scaleX(1.0000)">57.1%</div><div class="t" style="left:3403.8px;top:272.0px;font-size:24px;font-weight:400;color:#f0cf4a;transform:scaleX(1.0000)">--REGULAR Expansions--</div><div class="t" style="left:3502.5px;top:312.0px;font-size:24px;font-weight:400;color:#f4f4f6;transform:scaleX(1.0000)">0.5 Hits</div><div class="t" style="left:3721.4px;top:312.0px;font-size:24px;font-weight:400;color:#f4f4f6;transform:scaleX(1.0000)">62</div><div class="t" style="left:3792.6px;top:312.0px;font-size:24px;font-weight:400;color:#f4f4f6;transform:scaleX(1.0000)">83.1%</div><div class="t" style="left:3502.5px;top:352.0px;font-size:24px;font-weight:400;color:#f4f4f6;transform:scaleX(1.0000)">1.0 Hits</div><div class="t" style="left:3721.4px;top:352.0px;font-size:24px;font-weight:400;color:#f4f4f6;transform:scaleX(1.0000)">43</div><div class="t" style="left:3792.6px;top:352.0px;font-size:24px;font-weight:400;color:#f4f4f6;transform:scaleX(1.0000)">57.1%</div><div class="t" style="left:3502.5px;top:392.0px;font-size:24px;font-weight:400;color:#f4f4f6;transform:scaleX(1.0000)">2.0 Hits</div><div class="t" style="left:3721.4px;top:392.0px;font-size:24px;font-weight:400;color:#f4f4f6;transform:scaleX(1.0000)">24</div><div class="t" style="left:3792.6px;top:392.0px;font-size:24px;font-weight:400;color:#f4f4f6;transform:scaleX(1.0000)">32.1%</div><div class="t" style="left:3502.5px;top:432.0px;font-size:24px;font-weight:400;color:#f4f4f6;transform:scaleX(1.0000)">3.0 Hits</div><div class="t" style="left:3722.3px;top:432.0px;font-size:24px;font-weight:400;color:#f4f4f6;transform:scaleX(1.0000)">11</div><div class="t" style="left:3792.6px;top:432.0px;font-size:24px;font-weight:400;color:#f4f4f6;transform:scaleX(1.0000)">15.1%</div><div class="t" style="left:3502.5px;top:472.0px;font-size:24px;font-weight:400;color:#f4f4f6;transform:scaleX(1.0000)">4.0 Hits</div><div class="t" style="left:3728.1px;top:472.0px;font-size:24px;font-weight:400;color:#f4f4f6;transform:scaleX(1.0000)">4</div><div class="t" style="left:3799.2px;top:472.0px;font-size:24px;font-weight:400;color:#f4f4f6;transform:scaleX(1.0000)">5.1%</div><div class="t" style="left:3502.5px;top:512.0px;font-size:24px;font-weight:400;color:#f4f4f6;transform:scaleX(1.0000)">5.0 Hits</div><div class="t" style="left:3728.1px;top:512.0px;font-size:24px;font-weight:400;color:#f4f4f6;transform:scaleX(1.0000)">1</div><div class="t" style="left:3799.2px;top:512.0px;font-size:24px;font-weight:400;color:#f4f4f6;transform:scaleX(1.0000)">1.1%</div><div class="t" style="left:3424.5px;top:552.0px;font-size:24px;font-weight:400;color:#f0cf4a;transform:scaleX(1.0000)">--FALSE Expansions--</div><div class="t" style="left:3491.2px;top:592.0px;font-size:24px;font-weight:400;color:#f4f4f6;transform:scaleX(1.0000)">F-0.5 Hits</div><div class="t" style="left:3721.4px;top:592.0px;font-size:24px;font-weight:400;color:#f4f4f6;transform:scaleX(1.0000)">37</div><div class="t" style="left:3792.6px;top:592.0px;font-size:24px;font-weight:400;color:#f4f4f6;transform:scaleX(1.0000)">86.1%</div><div class="t" style="left:3491.2px;top:632.0px;font-size:24px;font-weight:400;color:#f4f4f6;transform:scaleX(1.0000)">F-1.0 Hits</div><div class="t" style="left:3721.4px;top:632.0px;font-size:24px;font-weight:400;color:#f4f4f6;transform:scaleX(1.0000)">29</div><div class="t" style="left:3792.6px;top:632.0px;font-size:24px;font-weight:400;color:#f4f4f6;transform:scaleX(1.0000)">67.1%</div><div class="t" style="left:3491.2px;top:672.0px;font-size:24px;font-weight:400;color:#f4f4f6;transform:scaleX(1.0000)">F-2.0 Hits</div><div class="t" style="left:3721.4px;top:672.0px;font-size:24px;font-weight:400;color:#f4f4f6;transform:scaleX(1.0000)">18</div><div class="t" style="left:3792.6px;top:672.0px;font-size:24px;font-weight:400;color:#f4f4f6;transform:scaleX(1.0000)">42.1%</div><div class="t" style="left:3491.2px;top:712.0px;font-size:24px;font-weight:400;color:#f4f4f6;transform:scaleX(1.0000)">F-3.0 Hits</div><div class="t" style="left:3722.3px;top:712.0px;font-size:24px;font-weight:400;color:#f4f4f6;transform:scaleX(1.0000)">11</div><div class="t" style="left:3792.6px;top:712.0px;font-size:24px;font-weight:400;color:#f4f4f6;transform:scaleX(1.0000)">26.1%</div><div class="t" style="left:3491.2px;top:752.0px;font-size:24px;font-weight:400;color:#f4f4f6;transform:scaleX(1.0000)">F-4.0 Hits</div><div class="t" style="left:3728.1px;top:752.0px;font-size:24px;font-weight:400;color:#f4f4f6;transform:scaleX(1.0000)">6</div><div class="t" style="left:3792.6px;top:752.0px;font-size:24px;font-weight:400;color:#f4f4f6;transform:scaleX(1.0000)">14.1%</div><div class="t" style="left:3491.2px;top:792.0px;font-size:24px;font-weight:400;color:#f4f4f6;transform:scaleX(1.0000)">F-5.0 Hits</div><div class="t" style="left:3728.1px;top:792.0px;font-size:24px;font-weight:400;color:#f4f4f6;transform:scaleX(1.0000)">4</div><div class="t" style="left:3799.2px;top:792.0px;font-size:24px;font-weight:400;color:#f4f4f6;transform:scaleX(1.0000)">9.1%</div>
<div style="position:absolute;left:0;top:2056px;width:17px;height:44px;background:#fefefe"></div>
</body></html>
